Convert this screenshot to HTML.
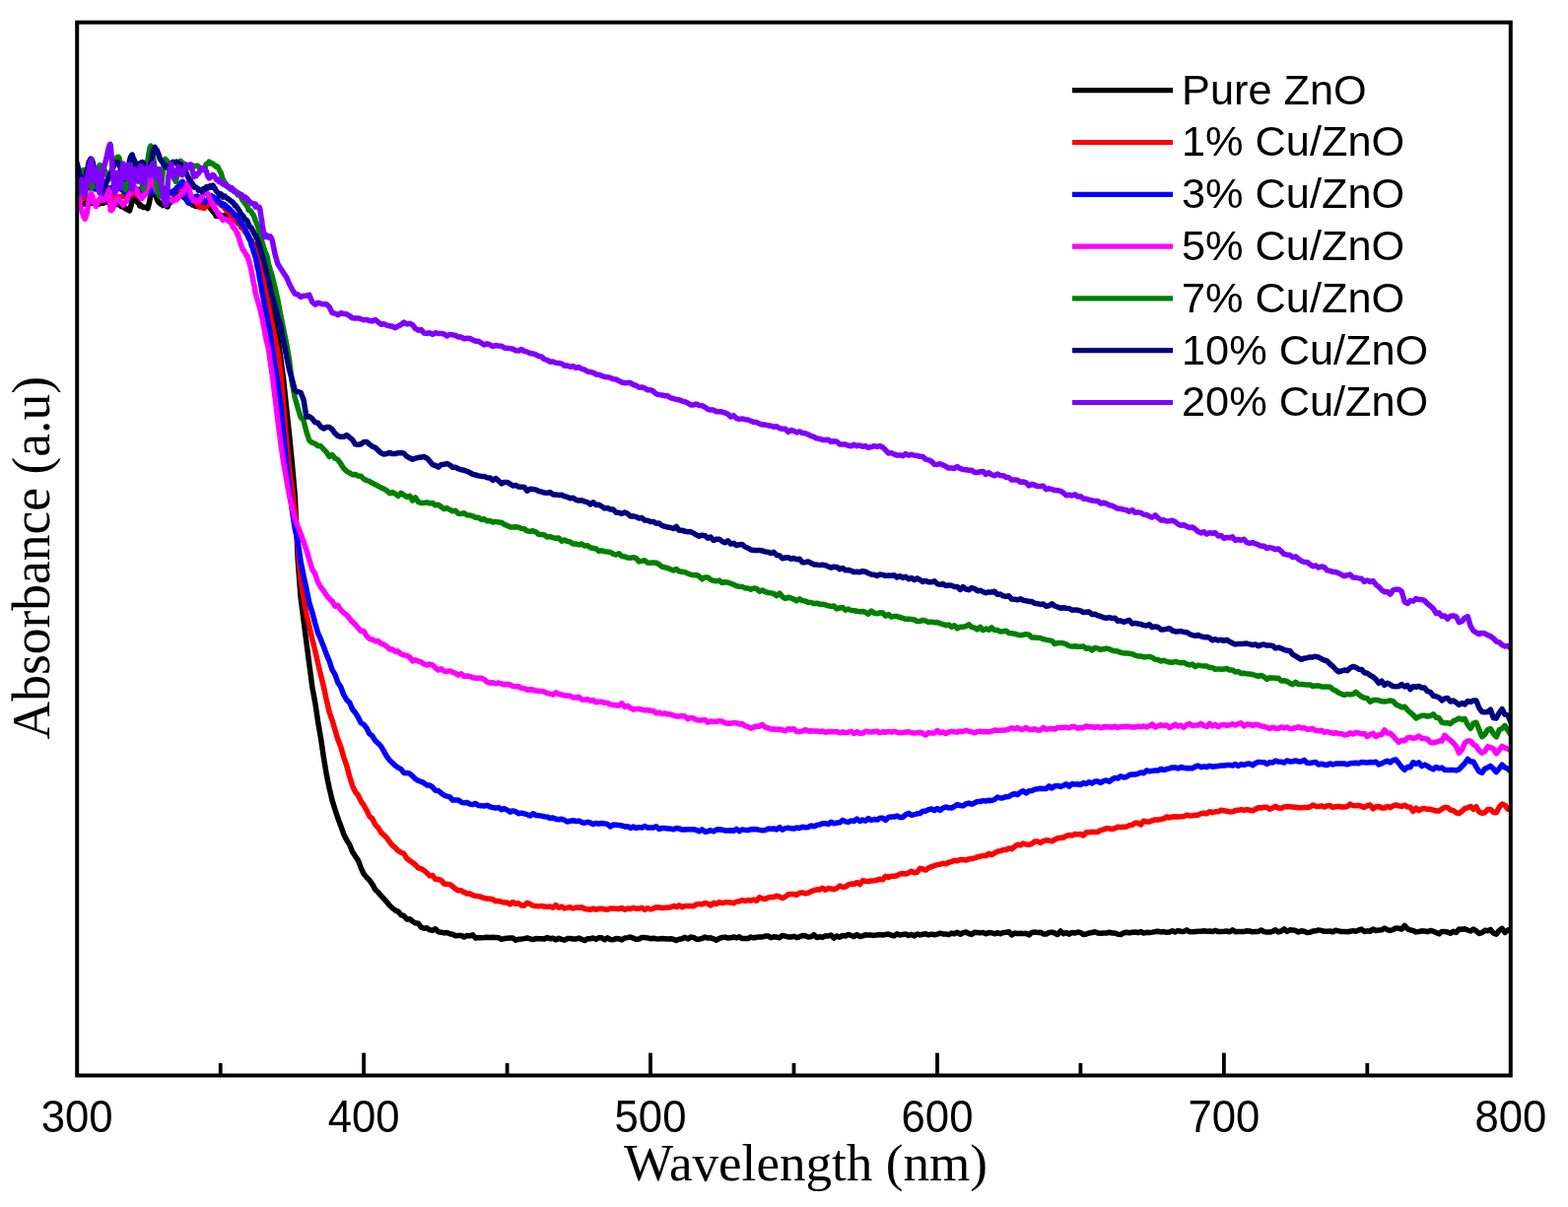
<!DOCTYPE html>
<html><head><meta charset="utf-8"><title>Absorbance vs Wavelength</title>
<style>
html,body{margin:0;padding:0;background:#fff;}
body{width:1591px;height:1225px;overflow:hidden;}
svg{display:block;}
.tl{font-family:"Liberation Sans",Arial,sans-serif;font-size:45.5px;fill:#000;}
.lg{font-family:"Liberation Sans",Arial,sans-serif;font-size:43.3px;fill:#000;}
.at{font-family:"Liberation Serif","Times New Roman",serif;fill:#000;}
</style></head>
<body>
<svg width="1591" height="1225" viewBox="0 0 1591 1225">
<rect width="1591" height="1225" fill="#fff"/>
<defs><clipPath id="pa"><rect x="78.2" y="22.7" width="1454.6" height="1068.8"/></clipPath></defs>
<g clip-path="url(#pa)">
<polyline points="78.2,208.0 79.2,207.9 80.2,207.2 81.2,206.6 82.2,206.6 83.2,206.1 84.2,206.6 85.2,207.2 86.2,205.9 87.2,205.8 88.2,206.3 89.2,206.2 90.0,206.1 90.2,205.4 91.2,206.0 92.2,206.5 93.2,205.4 94.2,206.1 95.2,205.4 96.2,205.9 97.2,205.7 98.2,206.8 99.2,206.2 100.0,207.2 100.2,207.1 101.2,206.8 102.2,205.2 103.2,206.2 104.2,206.2 105.2,206.0 106.2,204.7 107.2,205.1 108.2,204.6 109.2,204.6 110.0,205.6 110.2,204.5 111.2,205.0 112.2,205.7 113.2,204.9 114.2,205.4 115.2,205.8 116.2,206.0 117.2,205.5 118.2,206.5 119.2,207.6 120.0,206.1 120.2,207.6 121.2,207.5 122.2,207.6 123.2,209.8 124.2,209.7 125.2,209.3 126.2,210.7 127.2,211.7 128.2,211.8 129.2,212.9 130.2,212.8 131.2,213.4 131.6,213.9 132.2,211.6 133.2,207.5 134.2,201.7 135.2,199.1 135.3,198.3 136.2,199.1 137.2,200.6 138.2,203.1 139.2,205.3 140.2,205.7 141.2,207.5 141.9,208.9 142.2,207.4 143.2,208.8 144.2,209.4 145.2,210.6 146.2,210.6 147.2,210.2 148.2,210.3 149.2,210.5 150.0,211.6 150.2,210.3 151.2,207.0 152.2,201.4 153.2,195.0 154.2,191.6 154.4,190.9 155.2,192.1 156.2,193.5 157.2,196.9 158.2,199.4 159.2,201.7 160.2,204.3 161.0,204.8 161.2,205.8 162.2,206.1 163.2,207.3 164.2,206.9 165.2,208.5 166.2,207.8 167.2,207.9 168.2,209.1 168.4,208.8 169.2,209.2 170.2,209.8 171.2,207.0 172.2,205.9 173.2,205.2 174.2,204.1 175.0,202.9 175.2,202.7 176.2,202.1 177.2,200.8 178.2,198.6 179.2,198.1 180.2,197.3 181.2,196.2 181.6,197.0 182.2,196.4 183.2,197.9 184.2,198.2 185.2,199.1 186.2,199.8 187.2,201.2 188.2,201.2 189.2,202.7 190.0,204.2 190.2,202.9 191.2,205.3 192.2,204.5 193.2,206.7 194.2,206.4 195.2,208.0 196.2,208.1 197.2,207.4 198.2,209.2 198.5,209.4 199.2,208.3 200.2,207.7 201.2,207.1 202.2,205.8 203.2,206.3 204.2,204.8 205.0,205.0 205.2,204.5 206.2,204.9 207.2,205.0 208.2,207.3 209.2,207.3 210.2,208.9 211.2,209.3 212.0,209.6 212.2,210.0 213.2,210.9 214.2,212.5 215.2,213.6 216.2,215.0 217.2,215.6 218.2,217.1 219.2,219.3 220.2,218.4 221.2,218.4 222.2,219.4 223.2,220.1 224.2,218.5 225.2,219.3 226.2,219.2 227.2,218.6 228.2,220.2 229.2,219.9 230.0,220.0 230.2,219.6 231.2,220.5 232.2,220.2 233.2,220.8 234.2,220.6 235.2,220.9 236.0,222.8 236.2,221.8 237.2,222.8 238.2,223.3 239.2,223.9 240.2,224.7 241.2,226.4 242.2,226.8 243.2,228.0 244.2,229.1 245.0,230.7 245.2,230.6 246.2,231.6 247.2,232.2 248.2,232.9 249.2,235.7 250.2,237.0 251.2,237.8 252.2,239.7 253.2,241.5 254.2,243.1 255.0,244.6 255.2,244.1 256.2,247.1 257.2,247.4 258.2,250.7 259.2,252.7 260.2,255.3 261.2,258.4 262.2,260.7 263.0,261.3 263.2,261.5 264.2,266.0 265.2,268.2 266.2,272.3 267.2,276.5 268.2,278.8 269.2,282.5 270.0,287.2 270.2,287.9 271.2,291.9 272.2,296.7 273.2,300.7 274.2,304.9 276.0,315.0 278.9,328.1 281.8,342.7 284.8,363.4 287.7,385.5 290.6,413.6 293.5,440.8 296.4,470.6 299.3,503.1 302.2,567.9 305.1,606.5 308.0,629.0 310.9,651.7 313.8,674.0 316.8,696.9 319.7,712.7 322.6,732.2 325.5,749.0 328.4,768.6 331.3,786.1 334.2,800.1 337.1,812.4 340.0,821.6 342.9,830.6 345.8,838.2 348.8,846.7 351.7,852.4 354.6,856.9 357.5,864.2 360.4,868.8 363.3,873.1 366.2,880.6 369.1,887.0 372.0,890.3 374.9,893.4 377.8,897.4 380.8,902.9 383.7,905.6 386.6,909.0 389.5,912.1 392.4,915.3 395.3,918.9 398.2,921.6 401.1,923.9 404.0,925.1 406.9,928.6 409.8,929.5 412.8,932.9 415.7,932.7 418.6,935.2 421.5,936.8 424.4,937.2 427.3,941.1 430.2,942.2 433.1,941.7 436.0,943.8 438.9,944.4 441.8,942.7 444.8,945.8 447.7,946.2 450.6,946.9 453.5,946.5 456.4,947.7 459.3,948.2 462.2,949.7 465.1,949.4 468.0,949.4 470.9,951.0 473.9,949.5 476.8,949.9 479.7,948.9 482.6,952.0 485.5,951.6 488.4,951.7 491.3,951.6 494.2,951.3 497.1,951.5 500.0,951.3 502.9,951.4 505.9,951.8 508.8,953.3 511.7,952.6 514.6,952.3 517.5,952.0 520.4,952.1 523.3,954.2 526.2,953.3 529.1,953.0 532.0,952.6 534.9,952.0 537.9,952.8 540.8,953.6 543.7,952.6 546.6,952.7 549.5,952.7 552.4,953.0 555.3,951.5 558.2,952.7 561.1,952.2 564.0,953.7 566.9,952.2 569.9,953.4 572.8,954.2 575.7,952.6 578.6,952.4 581.5,953.1 584.4,952.9 587.3,952.1 590.2,953.3 593.1,954.6 596.0,952.7 598.9,952.7 601.9,952.0 604.8,953.2 607.7,951.8 610.6,951.8 613.5,953.8 616.4,951.9 619.3,953.5 622.2,953.8 625.1,952.6 628.0,952.8 630.9,953.9 633.9,952.0 636.8,951.6 639.7,951.0 642.6,952.1 645.5,953.4 648.4,953.0 651.3,951.4 654.2,951.6 657.1,951.9 660.0,952.7 662.9,952.3 665.9,952.8 668.8,952.9 671.7,952.5 674.6,952.7 677.5,953.0 680.4,952.7 683.3,953.2 686.2,954.4 689.1,953.3 692.0,952.8 695.0,951.3 697.9,953.0 700.8,951.0 703.7,951.4 706.6,953.3 709.5,953.2 712.4,952.4 715.3,951.0 718.2,952.1 721.1,951.8 724.0,952.8 727.0,954.2 729.9,952.4 732.8,951.5 735.7,951.1 738.6,952.0 741.5,951.8 744.4,950.9 747.3,951.9 750.2,950.8 753.1,952.6 756.0,952.5 759.0,952.5 761.9,951.1 764.8,951.8 767.7,951.2 770.6,951.0 773.5,950.9 776.4,950.1 779.3,949.9 782.2,951.7 785.1,950.8 788.0,951.1 791.0,951.7 793.9,949.4 796.8,950.1 799.7,950.9 802.6,951.0 805.5,950.3 808.4,951.5 811.3,950.8 814.2,949.5 817.1,949.7 820.0,951.1 823.0,950.8 825.9,948.7 828.8,951.5 831.7,950.8 834.6,951.4 837.5,949.8 840.4,949.9 843.3,949.1 846.2,952.2 849.1,949.9 852.0,951.3 855.0,949.4 857.9,950.0 860.8,948.4 863.7,949.5 866.6,950.6 869.5,948.6 872.4,950.6 875.3,949.9 878.2,948.7 881.1,949.1 884.0,949.1 887.0,949.4 889.9,948.9 892.8,948.6 895.7,949.0 898.6,948.4 901.5,948.1 904.4,949.1 907.3,949.8 910.2,947.7 913.1,949.0 916.0,948.4 919.0,948.0 921.9,949.5 924.8,948.3 927.7,950.0 930.6,947.9 933.5,948.9 936.4,948.3 939.3,947.8 942.2,948.8 945.1,948.1 948.1,948.7 951.0,948.1 953.9,947.2 956.8,947.9 959.7,948.0 962.6,948.7 965.5,947.1 968.4,947.7 971.3,946.3 974.2,948.2 977.1,946.7 980.1,946.0 983.0,947.5 985.9,948.4 988.8,946.2 991.7,946.5 994.6,946.8 997.5,946.4 1000.4,947.7 1003.3,946.6 1006.2,946.7 1009.1,947.8 1012.1,946.7 1015.0,947.7 1017.9,946.5 1020.8,946.3 1023.7,945.7 1026.6,948.9 1029.5,947.0 1032.4,947.5 1035.3,947.3 1038.2,947.4 1041.1,947.3 1044.1,948.9 1047.0,946.4 1049.9,946.0 1052.8,946.4 1055.7,946.2 1058.6,947.9 1061.5,948.0 1064.4,946.5 1067.3,946.1 1070.2,947.0 1073.1,948.5 1076.1,944.9 1079.0,947.7 1081.9,946.4 1084.8,948.2 1087.7,946.4 1090.6,947.1 1093.5,946.0 1096.4,946.5 1099.3,948.5 1102.2,948.0 1105.1,946.9 1108.1,946.5 1111.0,945.7 1113.9,946.9 1116.8,947.2 1119.7,947.1 1122.6,947.1 1125.5,946.2 1128.4,947.0 1131.3,947.0 1134.2,948.1 1137.1,948.5 1140.1,946.8 1143.0,946.2 1145.9,946.7 1148.8,946.2 1151.7,946.0 1154.6,946.5 1157.5,945.6 1160.4,947.0 1163.3,946.3 1166.2,946.5 1169.1,946.1 1172.1,945.6 1175.0,945.3 1177.9,945.9 1180.8,945.6 1183.7,946.2 1186.6,945.9 1189.5,944.7 1192.4,945.9 1195.3,944.6 1198.2,945.2 1201.2,945.4 1204.1,943.9 1207.0,945.7 1209.9,945.7 1212.8,945.4 1215.7,945.2 1218.6,945.2 1221.5,944.7 1224.4,945.3 1227.3,945.0 1230.2,945.5 1233.2,944.4 1236.1,945.6 1239.0,945.5 1241.9,945.3 1244.8,945.0 1247.7,945.8 1250.6,943.9 1253.5,945.7 1256.4,945.5 1259.3,945.5 1262.2,945.6 1265.2,944.7 1268.1,945.0 1271.0,945.8 1273.9,945.6 1276.8,945.4 1279.7,943.9 1282.6,945.6 1285.5,946.1 1288.4,946.0 1291.3,945.3 1294.2,943.8 1297.2,945.9 1300.1,945.0 1303.0,942.9 1305.9,945.4 1308.8,943.8 1311.7,943.9 1314.6,944.5 1317.5,946.1 1320.4,944.7 1323.3,945.2 1326.2,946.5 1329.2,946.3 1332.1,944.9 1335.0,944.8 1337.9,943.9 1340.8,944.4 1343.7,945.3 1346.6,945.3 1349.5,945.0 1352.4,945.8 1355.3,944.3 1358.2,944.9 1361.2,945.5 1364.1,945.4 1367.0,945.8 1369.9,945.2 1372.8,944.6 1375.7,945.2 1378.6,944.0 1381.5,943.1 1384.4,945.5 1387.3,944.8 1390.2,945.2 1393.2,943.0 1396.1,944.4 1399.0,944.1 1401.9,943.8 1404.8,942.0 1407.7,943.7 1410.6,944.5 1413.5,943.5 1416.4,941.9 1419.3,942.3 1422.3,943.0 1425.2,939.4 1428.1,942.7 1431.0,943.9 1433.9,944.5 1436.8,945.9 1439.7,945.5 1442.6,944.8 1445.5,945.0 1448.4,945.7 1451.3,944.4 1454.3,945.2 1457.2,946.5 1460.1,947.8 1463.0,945.4 1465.9,945.6 1468.8,945.9 1471.7,947.3 1474.6,945.3 1477.5,946.5 1480.4,942.9 1483.3,943.2 1486.3,942.8 1489.2,944.0 1492.1,945.0 1495.0,943.0 1497.9,944.9 1500.8,947.4 1503.7,946.6 1506.6,944.3 1509.5,944.8 1512.4,943.4 1515.3,947.0 1518.3,948.2 1521.2,944.3 1524.1,942.3 1527.0,946.4 1529.9,944.0 1532.8,943.4" fill="none" stroke="#000000" stroke-width="5.5" stroke-linejoin="round" stroke-linecap="round"/>
<polyline points="78.2,205.7 79.2,203.9 80.2,203.6 81.2,202.5 82.2,201.1 83.2,201.1 84.2,200.5 85.2,200.9 86.2,199.8 87.2,199.8 88.2,200.7 89.2,201.3 90.0,201.2 90.2,200.1 91.2,200.8 92.2,202.7 93.2,203.2 94.2,204.1 95.2,205.8 96.0,206.3 96.2,205.5 97.2,204.9 98.2,204.7 99.2,205.5 100.2,204.1 101.2,203.9 102.2,203.5 103.2,203.3 103.7,202.5 104.2,202.8 105.2,201.5 106.2,201.3 107.2,200.4 108.2,201.2 109.2,200.0 110.2,199.2 111.2,199.1 112.2,199.0 113.2,199.4 113.3,198.0 114.2,198.4 115.2,199.0 116.2,200.9 117.2,200.2 118.2,199.8 119.2,200.4 120.0,201.2 120.2,199.9 121.2,199.7 122.2,200.4 123.2,199.6 124.2,199.3 125.2,198.2 126.2,199.2 127.2,198.7 128.2,197.7 129.2,197.5 130.0,195.8 130.2,197.4 131.2,196.8 132.2,197.2 133.2,197.3 134.2,196.6 135.2,195.8 136.2,197.0 136.8,196.4 137.2,196.6 138.2,196.7 139.2,197.3 140.2,196.6 141.2,199.3 142.2,199.3 143.2,200.3 144.2,201.1 145.0,200.0 145.2,198.9 146.2,198.6 147.2,196.8 148.2,195.0 149.2,193.0 150.2,189.6 151.2,189.5 152.2,187.8 153.2,189.2 154.2,189.6 155.2,190.4 156.2,191.5 157.2,192.0 157.3,192.0 158.2,191.9 159.2,193.6 160.2,195.3 161.2,196.0 162.2,196.1 163.2,196.1 164.2,195.5 165.0,196.9 165.2,196.0 166.2,195.9 167.2,195.8 168.2,195.9 169.2,195.5 170.2,195.7 171.2,194.9 172.2,195.2 173.2,196.7 174.2,195.1 175.0,194.9 175.2,195.3 176.2,194.9 177.2,193.1 178.2,192.8 179.2,192.6 180.2,191.5 181.2,191.0 181.6,191.8 182.2,190.6 183.2,191.4 184.2,191.7 185.2,193.8 186.2,192.8 187.2,194.7 188.2,195.9 189.2,197.7 190.0,198.4 190.2,199.0 191.2,198.1 192.2,200.4 193.2,200.6 194.2,201.3 195.2,202.9 196.2,202.9 197.2,203.1 198.0,204.8 198.2,204.3 199.2,205.8 200.2,207.5 201.2,208.5 202.2,210.3 203.2,210.2 204.2,210.1 205.2,211.0 205.8,210.9 206.2,210.7 207.2,211.4 208.2,210.0 209.2,208.3 210.2,208.9 211.2,207.3 212.2,206.7 213.2,205.7 214.2,205.5 215.0,205.0 215.2,205.7 216.2,205.3 217.2,205.3 218.2,205.5 219.2,204.5 220.2,205.5 221.2,205.8 222.2,206.4 223.2,205.9 224.2,208.2 225.2,207.8 225.3,207.1 226.0,208.0 226.2,209.1 227.2,210.6 228.2,211.4 229.2,213.0 230.2,213.7 231.2,215.4 232.2,215.6 233.2,217.1 234.2,218.7 235.0,220.5 235.2,218.6 236.2,220.0 237.2,220.9 238.2,222.9 239.2,222.8 240.2,224.3 241.2,225.7 242.2,226.2 243.2,227.4 244.2,228.9 245.2,229.2 246.2,231.0 247.2,232.9 248.2,234.6 249.2,235.9 250.2,236.4 251.2,238.7 252.2,241.1 253.2,242.7 254.2,244.1 255.2,245.5 255.7,247.4 256.2,247.7 257.2,249.6 258.2,252.2 259.2,256.2 260.2,258.3 261.2,261.8 261.5,261.7 262.2,264.8 263.2,267.2 264.2,271.1 265.2,276.6 266.1,279.3 266.2,278.9 267.2,283.7 268.2,288.8 269.2,294.4 270.2,298.5 271.2,302.5 271.4,304.8 272.2,309.0 273.2,314.1 274.2,320.1 276.0,328.5 278.9,343.1 281.8,356.6 284.8,377.8 287.7,411.5 290.6,445.7 293.5,475.5 296.4,496.1 299.3,521.1 302.2,552.9 305.1,587.4 308.0,607.2 310.9,622.9 313.8,635.1 316.8,648.4 319.7,660.2 322.6,673.0 325.5,685.2 328.4,696.9 331.3,710.7 334.2,722.9 337.1,731.1 340.0,741.0 342.9,750.6 345.8,758.1 348.8,768.6 351.7,776.7 354.6,787.7 357.5,797.1 360.4,803.5 363.3,807.1 366.2,812.9 369.1,817.3 372.0,822.4 374.9,828.6 377.8,830.8 380.8,837.0 383.7,839.9 386.6,844.9 389.5,847.4 392.4,850.2 395.3,854.4 398.2,858.0 401.1,860.3 404.0,863.4 406.9,865.2 409.8,866.3 412.8,871.3 415.7,873.5 418.6,875.5 421.5,877.7 424.4,880.8 427.3,881.7 430.2,883.5 433.1,885.9 436.0,888.9 438.9,888.5 441.8,892.3 444.8,892.4 447.7,893.5 450.6,896.9 453.5,897.2 456.4,897.6 459.3,899.7 462.2,902.2 465.1,903.8 468.0,903.7 470.9,905.6 473.9,907.0 476.8,906.8 479.7,908.6 482.6,909.2 485.5,909.6 488.4,910.4 491.3,911.5 494.2,912.1 497.1,912.2 500.0,912.8 502.9,914.6 505.9,914.4 508.8,915.4 511.7,916.1 514.6,916.0 517.5,917.8 520.4,915.5 523.3,917.3 526.2,916.7 529.1,918.9 532.0,919.1 534.9,916.3 537.9,917.5 540.8,919.1 543.7,919.5 546.6,919.8 549.5,919.4 552.4,920.0 555.3,920.4 558.2,920.0 561.1,921.2 564.0,918.6 566.9,921.2 569.9,920.0 572.8,921.9 575.7,921.1 578.6,920.7 581.5,922.0 584.4,921.0 587.3,921.2 590.2,920.7 593.1,922.2 596.0,922.7 598.9,923.2 601.9,922.2 604.8,923.2 607.7,922.3 610.6,922.2 613.5,922.8 616.4,923.2 619.3,922.0 622.2,922.1 625.1,922.2 628.0,922.4 630.9,921.5 633.9,923.2 636.8,921.9 639.7,922.5 642.6,921.3 645.5,922.2 648.4,922.1 651.3,921.3 654.2,923.3 657.1,921.7 660.0,922.8 662.9,922.1 665.9,920.7 668.8,920.9 671.7,921.5 674.6,921.2 677.5,921.1 680.4,920.7 683.3,919.4 686.2,920.6 689.1,918.7 692.0,920.7 695.0,919.6 697.9,919.4 700.8,919.5 703.7,919.7 706.6,917.9 709.5,917.4 712.4,917.7 715.3,916.5 718.2,917.1 721.1,919.0 724.0,916.4 727.0,917.5 729.9,915.5 732.8,916.6 735.7,915.8 738.6,915.7 741.5,916.0 744.4,916.7 747.3,915.1 750.2,914.7 753.1,913.5 756.0,914.5 759.0,913.5 761.9,914.1 764.8,913.0 767.7,914.2 770.6,910.7 773.5,911.8 776.4,912.5 779.3,911.1 782.2,910.4 785.1,910.5 788.0,909.2 791.0,910.1 793.9,911.6 796.8,910.1 799.7,907.8 802.6,907.6 805.5,907.5 808.4,908.3 811.3,906.3 814.2,905.9 817.1,906.8 820.0,906.3 823.0,904.7 825.9,903.6 828.8,902.8 831.7,903.0 834.6,901.2 837.5,903.2 840.4,901.5 843.3,902.0 846.2,902.6 849.1,901.5 852.0,899.0 855.0,900.3 857.9,900.0 860.8,897.8 863.7,897.1 866.6,897.3 869.5,895.5 872.4,897.6 875.3,893.8 878.2,894.3 881.1,894.5 884.0,893.9 887.0,893.7 889.9,893.2 892.8,892.2 895.7,892.7 898.6,889.3 901.5,890.5 904.4,889.3 907.3,889.3 910.2,888.7 913.1,887.0 916.0,886.5 919.0,887.0 921.9,885.9 924.8,884.2 927.7,885.8 930.6,885.2 933.5,881.3 936.4,882.0 939.3,883.1 942.2,880.9 945.1,879.7 948.1,878.6 951.0,877.6 953.9,877.2 956.8,876.3 959.7,876.7 962.6,875.2 965.5,874.6 968.4,873.3 971.3,873.8 974.2,872.5 977.1,872.6 980.1,873.0 983.0,871.9 985.9,871.5 988.8,870.8 991.7,869.9 994.6,869.1 997.5,868.4 1000.4,868.6 1003.3,866.3 1006.2,867.6 1009.1,865.7 1012.1,864.2 1015.0,863.6 1017.9,862.6 1020.8,862.5 1023.7,860.9 1026.6,861.7 1029.5,859.3 1032.4,857.2 1035.3,857.8 1038.2,856.0 1041.1,857.0 1044.1,857.3 1047.0,856.3 1049.9,854.0 1052.8,853.9 1055.7,855.4 1058.6,853.6 1061.5,852.8 1064.4,853.1 1067.3,853.7 1070.2,852.2 1073.1,850.7 1076.1,850.3 1079.0,850.0 1081.9,848.4 1084.8,847.5 1087.7,847.9 1090.6,846.6 1093.5,846.8 1096.4,846.5 1099.3,847.9 1102.2,844.7 1105.1,844.8 1108.1,844.3 1111.0,844.4 1113.9,844.4 1116.8,842.6 1119.7,841.9 1122.6,840.7 1125.5,840.8 1128.4,841.6 1131.3,840.7 1134.2,839.3 1137.1,839.4 1140.1,839.2 1143.0,839.1 1145.9,837.6 1148.8,837.3 1151.7,835.3 1154.6,835.3 1157.5,837.0 1160.4,833.2 1163.3,834.1 1166.2,834.0 1169.1,832.9 1172.1,831.9 1175.0,832.0 1177.9,831.5 1180.8,830.9 1183.7,828.9 1186.6,829.9 1189.5,828.9 1192.4,828.7 1195.3,828.9 1198.2,828.8 1201.2,828.6 1204.1,827.1 1207.0,827.9 1209.9,827.7 1212.8,827.3 1215.7,827.2 1218.6,825.6 1221.5,825.2 1224.4,825.8 1227.3,823.7 1230.2,824.7 1233.2,823.8 1236.1,823.7 1239.0,822.3 1241.9,822.8 1244.8,823.3 1247.7,823.9 1250.6,823.7 1253.5,822.6 1256.4,822.3 1259.3,821.6 1262.2,822.4 1265.2,821.6 1268.1,822.2 1271.0,822.9 1273.9,821.2 1276.8,819.7 1279.7,820.0 1282.6,819.2 1285.5,819.2 1288.4,821.2 1291.3,820.0 1294.2,818.3 1297.2,820.0 1300.1,820.4 1303.0,818.9 1305.9,818.5 1308.8,818.7 1311.7,819.1 1314.6,819.3 1317.5,819.7 1320.4,819.7 1323.3,819.6 1326.2,819.6 1329.2,819.0 1332.1,817.1 1335.0,818.2 1337.9,818.5 1340.8,817.9 1343.7,819.0 1346.6,817.9 1349.5,817.4 1352.4,819.4 1355.3,818.8 1358.2,818.4 1361.2,819.0 1364.1,819.1 1367.0,818.5 1369.9,816.1 1372.8,817.6 1375.7,817.8 1378.6,817.4 1381.5,818.4 1384.4,819.5 1387.3,817.7 1390.2,817.0 1393.2,820.8 1396.1,818.7 1399.0,818.4 1401.9,820.0 1404.8,820.0 1407.7,818.4 1410.6,819.6 1413.5,817.8 1416.4,816.9 1419.3,817.9 1422.3,818.4 1425.2,817.2 1428.1,818.9 1431.0,819.3 1433.9,823.3 1436.8,820.1 1439.7,822.6 1442.6,820.9 1445.5,820.6 1448.4,821.2 1451.3,821.3 1454.3,822.1 1457.2,823.0 1460.1,823.1 1463.0,821.0 1465.9,819.4 1468.8,819.5 1471.7,822.0 1474.6,822.6 1477.5,824.8 1480.4,825.6 1483.3,823.4 1486.3,820.5 1489.2,819.8 1492.1,818.5 1495.0,821.4 1497.9,818.7 1500.8,824.0 1503.7,825.3 1506.6,824.8 1509.5,821.5 1512.4,821.5 1515.3,824.4 1518.3,824.8 1521.2,819.2 1524.1,816.1 1527.0,817.2 1529.9,821.2 1532.8,821.8" fill="none" stroke="#ff0000" stroke-width="5.5" stroke-linejoin="round" stroke-linecap="round"/>
<polyline points="78.2,192.2 79.2,191.1 80.2,191.4 81.2,191.6 82.2,190.8 83.2,191.1 84.2,189.5 85.2,191.0 86.2,189.8 87.2,190.5 88.2,190.1 89.2,188.5 90.0,189.5 90.2,190.1 91.2,191.0 92.2,190.3 93.2,190.4 94.2,189.6 95.2,191.5 96.2,191.9 97.2,191.1 98.2,191.3 99.2,190.8 100.0,192.5 100.2,193.7 101.2,193.3 102.2,194.9 103.2,195.9 104.2,196.2 105.2,198.5 106.0,197.3 106.2,197.9 107.2,197.7 108.2,197.0 109.2,195.4 110.2,193.9 111.2,191.9 112.2,190.6 113.0,191.0 113.2,190.5 114.2,189.9 115.2,189.7 116.2,190.0 117.2,189.1 118.2,189.3 119.2,189.0 120.0,190.1 120.2,190.3 121.2,191.5 122.2,190.0 123.2,191.4 124.2,193.2 125.2,193.5 126.2,194.2 127.2,195.9 128.0,194.8 128.2,194.3 129.2,194.0 130.2,194.5 131.2,193.9 132.2,192.2 133.2,191.9 134.2,192.4 135.0,192.3 135.2,191.6 136.2,192.4 137.2,192.5 138.2,191.3 139.2,192.4 140.2,193.1 141.2,192.8 142.2,192.1 143.2,193.5 144.2,194.5 145.2,195.2 146.2,193.2 147.2,196.3 148.2,194.2 149.2,195.5 150.0,195.7 150.2,195.6 151.2,195.0 152.2,194.1 153.2,195.0 154.2,194.0 155.2,192.7 156.2,195.6 157.2,194.0 158.2,194.4 159.2,192.5 160.2,193.6 161.2,193.4 162.2,193.2 163.2,192.1 164.2,191.3 165.0,191.9 165.2,190.7 166.2,191.1 167.2,192.4 168.2,192.1 169.2,193.0 170.2,193.5 171.2,195.2 172.2,195.2 173.2,194.7 174.2,195.7 175.0,194.5 175.2,194.8 176.2,195.2 177.2,193.1 178.2,192.5 179.2,190.5 180.2,189.9 181.2,189.4 182.2,186.6 183.2,186.1 184.2,184.7 185.2,184.3 186.2,185.8 187.2,191.4 188.2,197.0 189.2,200.9 190.2,203.9 191.1,206.0 191.2,205.4 192.2,205.8 193.2,205.0 194.2,204.2 195.2,203.5 196.2,201.8 197.2,201.1 198.2,199.6 199.2,199.9 200.0,199.1 200.2,199.9 201.2,199.6 202.2,200.7 203.2,201.5 204.2,201.1 205.2,202.2 206.2,202.7 207.2,204.2 208.2,205.1 208.7,204.6 209.2,203.8 210.2,204.4 211.2,201.8 212.2,202.6 213.2,200.4 214.2,198.5 215.0,201.6 215.2,201.0 216.2,199.6 217.2,200.8 218.2,201.2 219.2,202.2 220.2,202.1 221.2,203.3 221.7,204.4 222.2,204.6 223.2,205.8 224.2,205.9 225.2,208.0 226.2,206.9 227.2,208.2 228.2,207.7 229.2,208.9 230.2,211.3 231.2,210.7 232.0,212.3 232.2,212.1 233.2,212.4 234.2,213.7 235.2,214.5 236.2,215.5 237.2,217.2 238.2,218.1 239.2,218.4 240.2,219.3 241.2,221.2 242.2,222.2 243.2,224.2 243.9,226.1 244.2,225.4 245.2,226.4 246.2,228.1 247.2,229.5 248.2,231.4 249.2,233.5 250.2,236.0 251.2,238.3 252.2,241.3 253.1,242.8 253.2,243.1 254.2,245.0 255.2,249.2 256.2,251.3 257.2,255.0 258.2,257.7 259.0,260.9 259.2,260.6 260.2,265.4 261.2,271.5 262.2,274.4 263.2,281.1 263.5,283.0 264.2,286.0 265.2,291.7 266.2,297.8 267.2,302.3 268.2,308.5 268.8,311.0 269.2,313.2 270.2,318.0 271.2,323.1 272.2,328.2 273.2,333.6 274.0,336.4 274.2,340.5 276.0,351.9 278.9,370.9 281.8,388.7 284.8,411.1 287.7,440.9 290.6,470.7 293.5,495.4 296.4,518.2 299.3,537.0 302.2,549.9 305.1,569.5 308.0,584.2 310.9,597.7 313.8,611.8 316.8,621.1 319.7,632.3 322.6,642.4 325.5,649.0 328.4,656.3 331.3,664.2 334.2,671.0 337.1,679.9 340.0,684.6 342.9,692.8 345.8,697.3 348.8,705.2 351.7,710.2 354.6,712.9 357.5,719.7 360.4,723.1 363.3,727.8 366.2,733.7 369.1,735.3 372.0,739.0 374.9,744.7 377.8,747.0 380.8,751.7 383.7,754.4 386.6,757.4 389.5,762.4 392.4,767.7 395.3,771.5 398.2,774.2 401.1,777.1 404.0,779.1 406.9,780.6 409.8,784.4 412.8,784.4 415.7,785.2 418.6,787.6 421.5,790.5 424.4,792.3 427.3,793.4 430.2,794.6 433.1,796.9 436.0,797.0 438.9,798.9 441.8,802.2 444.8,802.6 447.7,804.9 450.6,807.2 453.5,808.1 456.4,808.9 459.3,812.0 462.2,811.9 465.1,812.1 468.0,814.1 470.9,814.8 473.9,814.5 476.8,816.1 479.7,816.5 482.6,815.4 485.5,817.4 488.4,817.7 491.3,818.0 494.2,817.3 497.1,818.8 500.0,819.5 502.9,820.1 505.9,819.6 508.8,821.7 511.7,820.6 514.6,822.1 517.5,824.1 520.4,822.9 523.3,823.7 526.2,825.7 529.1,825.1 532.0,825.7 534.9,826.8 537.9,828.0 540.8,825.7 543.7,827.4 546.6,827.7 549.5,828.1 552.4,828.7 555.3,829.1 558.2,830.5 561.1,829.9 564.0,831.2 566.9,831.8 569.9,831.2 572.8,832.3 575.7,834.0 578.6,833.2 581.5,832.7 584.4,833.5 587.3,833.1 590.2,834.5 593.1,835.3 596.0,834.2 598.9,835.0 601.9,836.5 604.8,835.4 607.7,836.2 610.6,835.5 613.5,835.9 616.4,836.5 619.3,839.0 622.2,837.1 625.1,837.2 628.0,837.4 630.9,838.0 633.9,838.9 636.8,838.7 639.7,840.5 642.6,839.1 645.5,840.4 648.4,839.6 651.3,840.1 654.2,838.5 657.1,839.9 660.0,840.1 662.9,840.1 665.9,838.7 668.8,841.4 671.7,840.5 674.6,840.6 677.5,840.9 680.4,841.1 683.3,841.7 686.2,840.5 689.1,840.9 692.0,842.1 695.0,842.1 697.9,841.8 700.8,841.8 703.7,841.7 706.6,842.5 709.5,843.7 712.4,841.9 715.3,844.2 718.2,843.7 721.1,842.7 724.0,843.8 727.0,842.0 729.9,841.8 732.8,842.2 735.7,843.0 738.6,843.0 741.5,842.8 744.4,843.3 747.3,841.4 750.2,843.6 753.1,841.9 756.0,842.4 759.0,842.5 761.9,841.8 764.8,841.5 767.7,841.7 770.6,842.4 773.5,842.8 776.4,842.6 779.3,841.1 782.2,841.2 785.1,840.9 788.0,841.9 791.0,839.6 793.9,842.2 796.8,840.6 799.7,840.1 802.6,840.8 805.5,841.0 808.4,840.1 811.3,840.4 814.2,839.3 817.1,839.8 820.0,839.5 823.0,837.9 825.9,838.8 828.8,837.4 831.7,836.9 834.6,835.7 837.5,835.8 840.4,836.4 843.3,834.3 846.2,835.7 849.1,835.1 852.0,834.8 855.0,832.4 857.9,833.9 860.8,834.3 863.7,832.9 866.6,833.4 869.5,831.1 872.4,833.4 875.3,832.1 878.2,833.1 881.1,830.6 884.0,832.5 887.0,831.5 889.9,832.1 892.8,830.3 895.7,830.3 898.6,832.4 901.5,829.4 904.4,829.1 907.3,829.1 910.2,828.0 913.1,829.4 916.0,829.4 919.0,826.8 921.9,825.4 924.8,827.3 927.7,826.6 930.6,825.8 933.5,825.5 936.4,823.2 939.3,823.2 942.2,821.6 945.1,821.0 948.1,822.5 951.0,820.5 953.9,822.5 956.8,820.1 959.7,819.0 962.6,819.8 965.5,820.1 968.4,818.5 971.3,816.6 974.2,817.5 977.1,817.9 980.1,815.9 983.0,815.1 985.9,816.2 988.8,815.0 991.7,813.4 994.6,813.5 997.5,812.6 1000.4,813.0 1003.3,812.2 1006.2,812.5 1009.1,811.5 1012.1,809.0 1015.0,810.0 1017.9,809.7 1020.8,808.7 1023.7,808.5 1026.6,806.5 1029.5,805.6 1032.4,806.5 1035.3,804.2 1038.2,802.7 1041.1,804.9 1044.1,802.8 1047.0,802.6 1049.9,801.1 1052.8,800.7 1055.7,800.3 1058.6,800.4 1061.5,800.5 1064.4,797.8 1067.3,799.9 1070.2,797.7 1073.1,797.4 1076.1,798.4 1079.0,797.3 1081.9,795.7 1084.8,798.2 1087.7,795.5 1090.6,796.1 1093.5,795.7 1096.4,796.5 1099.3,794.6 1102.2,795.5 1105.1,793.7 1108.1,795.0 1111.0,793.0 1113.9,793.0 1116.8,794.5 1119.7,792.7 1122.6,792.0 1125.5,793.3 1128.4,791.0 1131.3,789.4 1134.2,790.0 1137.1,787.7 1140.1,789.0 1143.0,788.5 1145.9,786.5 1148.8,785.9 1151.7,786.0 1154.6,785.3 1157.5,783.9 1160.4,784.7 1163.3,781.9 1166.2,782.8 1169.1,782.4 1172.1,782.0 1175.0,782.1 1177.9,780.4 1180.8,781.6 1183.7,780.6 1186.6,779.9 1189.5,779.0 1192.4,778.9 1195.3,779.9 1198.2,778.5 1201.2,779.2 1204.1,779.8 1207.0,779.6 1209.9,779.8 1212.8,778.0 1215.7,777.1 1218.6,778.7 1221.5,777.9 1224.4,778.5 1227.3,777.3 1230.2,778.2 1233.2,777.7 1236.1,777.4 1239.0,777.1 1241.9,776.9 1244.8,776.6 1247.7,776.4 1250.6,777.0 1253.5,775.5 1256.4,777.3 1259.3,775.6 1262.2,776.3 1265.2,775.3 1268.1,775.0 1271.0,776.7 1273.9,774.5 1276.8,773.4 1279.7,773.6 1282.6,773.7 1285.5,775.5 1288.4,773.6 1291.3,774.0 1294.2,772.1 1297.2,773.1 1300.1,773.2 1303.0,774.1 1305.9,771.9 1308.8,773.0 1311.7,772.8 1314.6,771.9 1317.5,772.9 1320.4,772.9 1323.3,771.4 1326.2,774.2 1329.2,774.5 1332.1,773.9 1335.0,773.4 1337.9,776.1 1340.8,775.2 1343.7,776.0 1346.6,776.5 1349.5,774.9 1352.4,776.0 1355.3,775.0 1358.2,775.1 1361.2,775.0 1364.1,775.0 1367.0,775.8 1369.9,774.8 1372.8,774.5 1375.7,774.3 1378.6,774.7 1381.5,773.4 1384.4,773.7 1387.3,774.1 1390.2,773.5 1393.2,773.8 1396.1,773.2 1399.0,775.9 1401.9,774.9 1404.8,773.4 1407.7,772.2 1410.6,774.0 1413.5,771.5 1416.4,771.0 1419.3,774.5 1422.3,778.6 1425.2,781.3 1428.1,778.4 1431.0,778.7 1433.9,773.8 1436.8,775.3 1439.7,773.9 1442.6,777.6 1445.5,776.1 1448.4,777.4 1451.3,779.5 1454.3,780.7 1457.2,778.5 1460.1,779.8 1463.0,779.1 1465.9,781.4 1468.8,781.5 1471.7,781.5 1474.6,781.4 1477.5,781.9 1480.4,780.9 1483.3,777.8 1486.3,774.8 1489.2,770.4 1492.1,772.9 1495.0,773.1 1497.9,778.4 1500.8,783.0 1503.7,784.3 1506.6,780.3 1509.5,779.0 1512.4,777.4 1515.3,780.1 1518.3,783.6 1521.2,780.1 1524.1,776.1 1527.0,779.0 1529.9,780.1 1532.8,783.1" fill="none" stroke="#0000ff" stroke-width="5.5" stroke-linejoin="round" stroke-linecap="round"/>
<polyline points="78.2,200.6 79.2,201.8 80.2,202.0 81.2,205.0 82.2,210.5 83.2,215.0 84.2,218.0 85.2,220.8 86.1,222.1 86.2,222.2 87.2,219.6 88.2,216.4 89.2,210.0 90.2,204.3 91.2,200.7 92.2,196.8 92.7,196.8 93.2,197.6 94.2,200.4 95.2,203.6 96.2,207.3 97.1,208.0 97.2,209.5 98.2,207.9 99.2,204.9 100.2,203.2 101.2,201.7 102.2,200.8 103.2,202.0 104.2,202.7 105.2,202.4 106.0,202.9 106.2,202.2 107.2,201.4 108.2,198.3 109.2,196.9 110.2,193.9 110.3,192.5 111.2,200.9 112.2,213.4 112.5,213.6 113.2,213.5 114.2,212.1 115.2,210.0 116.2,206.9 117.2,203.9 118.2,203.0 119.1,201.6 119.2,201.6 120.2,201.6 121.2,203.1 122.2,205.5 123.2,205.5 124.2,207.5 125.0,208.2 125.2,207.5 126.2,207.2 127.2,204.8 128.2,204.3 129.2,202.1 130.0,200.1 130.2,198.6 131.2,197.0 132.2,195.9 133.2,194.0 134.2,191.2 135.2,190.5 136.0,189.0 136.2,189.3 137.2,190.2 138.2,192.2 139.2,193.2 140.2,197.1 141.2,199.5 142.2,199.7 143.2,200.4 143.4,201.4 144.2,200.5 145.2,198.4 146.2,198.7 147.2,196.5 148.0,194.7 148.2,195.9 149.2,192.4 150.2,188.9 151.2,186.4 152.2,183.2 153.2,181.9 153.7,182.3 154.2,182.0 155.2,183.4 156.2,187.0 157.2,189.3 158.2,192.0 159.2,194.1 160.0,195.3 160.2,196.1 161.2,196.1 162.2,197.9 163.2,196.9 164.2,197.9 165.2,197.7 166.2,198.8 167.2,199.9 168.0,200.9 168.2,199.7 169.2,200.8 170.2,201.2 171.2,201.7 172.2,202.1 173.2,203.4 174.2,202.8 175.2,204.1 175.7,204.1 176.2,203.6 177.2,203.0 178.2,202.0 179.2,202.9 180.2,200.0 181.0,200.9 181.2,200.2 182.2,198.7 183.2,197.2 184.2,197.5 185.2,196.8 186.2,193.9 186.7,193.6 187.2,193.6 188.2,190.9 189.2,189.5 190.2,186.1 191.1,186.1 191.2,185.1 192.2,191.5 193.2,196.9 194.0,199.2 194.2,200.6 195.2,201.5 196.2,203.5 197.2,202.8 198.2,203.4 199.2,204.2 200.2,205.0 201.2,204.1 201.4,204.7 202.2,204.1 203.2,202.6 204.2,201.3 205.2,199.4 206.2,197.1 207.2,197.0 208.2,194.6 208.7,196.0 209.2,196.0 210.2,196.2 211.2,197.3 212.2,199.6 213.2,202.2 214.2,204.6 215.2,206.5 216.0,208.4 216.2,207.8 217.2,210.0 218.2,210.6 219.2,213.6 220.2,214.8 220.5,215.0 221.2,217.0 222.2,218.2 223.2,217.6 224.2,220.6 225.2,220.6 225.3,222.1 226.2,223.4 227.2,222.0 228.2,222.6 229.2,222.6 230.2,223.2 231.2,223.7 232.2,224.5 232.7,223.4 233.2,225.3 234.2,225.2 235.2,227.7 236.2,230.1 237.1,231.4 237.2,230.6 238.2,232.3 239.2,233.9 240.2,235.8 241.2,238.5 241.3,237.2 242.2,240.7 243.2,244.1 244.2,247.5 245.2,250.3 246.2,253.1 247.2,254.2 248.2,256.0 249.2,257.5 250.2,260.0 251.2,259.9 251.8,263.3 252.2,263.5 253.2,267.2 254.2,271.2 255.2,275.4 255.7,278.6 256.2,280.8 257.2,286.6 258.2,290.7 259.2,297.5 259.6,298.6 260.2,300.7 261.2,304.3 262.2,307.8 263.2,311.1 264.2,315.2 264.8,318.0 265.2,319.7 266.2,323.6 267.2,329.3 268.2,334.0 268.8,337.7 269.2,340.7 270.2,345.0 271.2,349.1 272.2,353.1 272.7,356.1 273.2,358.8 274.2,367.2 276.0,378.7 278.9,401.9 281.8,426.1 284.8,449.3 287.7,469.6 290.6,485.9 293.5,502.8 296.4,515.2 299.3,527.1 302.2,534.1 305.1,541.8 308.0,549.8 310.9,558.1 313.8,568.0 316.8,577.9 319.7,582.3 322.6,590.8 325.5,596.1 328.4,599.6 331.3,604.3 334.2,607.8 337.1,610.4 340.0,615.3 342.9,614.5 345.8,619.1 348.8,621.9 351.7,624.0 354.6,627.6 357.5,631.2 360.4,633.7 363.3,637.2 366.2,640.4 369.1,640.5 372.0,645.6 374.9,648.3 377.8,649.0 380.8,650.8 383.7,650.5 386.6,653.2 389.5,654.2 392.4,656.0 395.3,658.9 398.2,659.1 401.1,661.2 404.0,661.1 406.9,663.7 409.8,664.9 412.8,665.4 415.7,667.0 418.6,670.9 421.5,669.8 424.4,671.1 427.3,671.9 430.2,674.0 433.1,675.0 436.0,674.1 438.9,674.9 441.8,677.8 444.8,680.1 447.7,678.8 450.6,681.1 453.5,681.4 456.4,680.9 459.3,682.2 462.2,683.3 465.1,685.1 468.0,683.8 470.9,686.6 473.9,686.0 476.8,686.4 479.7,687.8 482.6,688.2 485.5,688.2 488.4,688.3 491.3,689.5 494.2,692.2 497.1,693.2 500.0,692.7 502.9,693.8 505.9,693.0 508.8,694.0 511.7,694.9 514.6,694.3 517.5,695.0 520.4,696.5 523.3,696.7 526.2,696.7 529.1,698.5 532.0,698.5 534.9,700.2 537.9,699.8 540.8,700.1 543.7,701.0 546.6,701.3 549.5,701.4 552.4,702.1 555.3,703.6 558.2,704.0 561.1,705.0 564.0,702.9 566.9,704.5 569.9,705.0 572.8,705.9 575.7,705.9 578.6,706.3 581.5,707.9 584.4,708.0 587.3,707.3 590.2,710.0 593.1,710.3 596.0,709.6 598.9,711.3 601.9,710.6 604.8,712.8 607.7,712.2 610.6,712.3 613.5,713.3 616.4,713.5 619.3,714.9 622.2,715.5 625.1,715.9 628.0,715.9 630.9,713.8 633.9,717.5 636.8,716.3 639.7,718.6 642.6,719.9 645.5,719.6 648.4,719.5 651.3,720.2 654.2,720.7 657.1,720.8 660.0,721.3 662.9,721.5 665.9,723.8 668.8,723.2 671.7,724.5 674.6,724.0 677.5,724.8 680.4,725.1 683.3,726.1 686.2,726.9 689.1,726.9 692.0,726.6 695.0,727.0 697.9,729.6 700.8,728.4 703.7,728.9 706.6,730.8 709.5,730.9 712.4,730.9 715.3,730.5 718.2,733.2 721.1,732.0 724.0,732.5 727.0,732.3 729.9,731.6 732.8,732.1 735.7,733.9 738.6,734.3 741.5,734.1 744.4,733.7 747.3,733.8 750.2,735.1 753.1,734.5 756.0,736.9 759.0,737.5 761.9,739.2 764.8,738.0 767.7,737.1 770.6,737.2 773.5,735.4 776.4,738.1 779.3,738.8 782.2,740.1 785.1,740.1 788.0,740.3 791.0,740.2 793.9,740.8 796.8,741.7 799.7,739.7 802.6,740.4 805.5,739.8 808.4,742.5 811.3,742.4 814.2,742.1 817.1,740.6 820.0,741.9 823.0,741.7 825.9,742.1 828.8,742.0 831.7,742.7 834.6,742.0 837.5,743.2 840.4,742.8 843.3,742.5 846.2,742.8 849.1,742.6 852.0,743.8 855.0,743.0 857.9,743.6 860.8,743.1 863.7,742.3 866.6,744.4 869.5,742.8 872.4,744.3 875.3,744.1 878.2,742.3 881.1,742.8 884.0,743.0 887.0,742.6 889.9,742.2 892.8,743.7 895.7,742.8 898.6,743.2 901.5,742.5 904.4,743.2 907.3,742.4 910.2,743.1 913.1,743.7 916.0,743.4 919.0,743.1 921.9,742.7 924.8,743.8 927.7,744.1 930.6,743.6 933.5,743.2 936.4,744.4 939.3,746.0 942.2,743.6 945.1,744.1 948.1,744.0 951.0,741.5 953.9,743.7 956.8,742.9 959.7,744.5 962.6,743.0 965.5,742.4 968.4,742.8 971.3,743.0 974.2,742.2 977.1,742.5 980.1,741.3 983.0,742.1 985.9,742.8 988.8,743.7 991.7,742.6 994.6,742.1 997.5,742.7 1000.4,742.5 1003.3,742.9 1006.2,742.3 1009.1,741.1 1012.1,741.3 1015.0,741.2 1017.9,741.1 1020.8,740.9 1023.7,740.0 1026.6,738.7 1029.5,739.8 1032.4,738.6 1035.3,740.2 1038.2,740.1 1041.1,738.5 1044.1,740.4 1047.0,740.5 1049.9,739.8 1052.8,741.0 1055.7,741.1 1058.6,738.4 1061.5,740.2 1064.4,739.7 1067.3,739.6 1070.2,739.9 1073.1,738.5 1076.1,738.5 1079.0,738.2 1081.9,738.2 1084.8,738.7 1087.7,737.5 1090.6,737.8 1093.5,739.1 1096.4,738.5 1099.3,738.8 1102.2,736.8 1105.1,737.6 1108.1,737.7 1111.0,738.2 1113.9,737.6 1116.8,738.8 1119.7,737.8 1122.6,737.8 1125.5,737.7 1128.4,738.2 1131.3,737.2 1134.2,738.4 1137.1,737.8 1140.1,737.5 1143.0,737.3 1145.9,737.6 1148.8,738.0 1151.7,737.9 1154.6,737.3 1157.5,737.7 1160.4,737.0 1163.3,738.0 1166.2,736.8 1169.1,735.1 1172.1,737.9 1175.0,736.9 1177.9,735.8 1180.8,736.6 1183.7,736.0 1186.6,738.5 1189.5,737.1 1192.4,735.3 1195.3,737.1 1198.2,736.2 1201.2,738.2 1204.1,735.6 1207.0,734.6 1209.9,736.5 1212.8,736.1 1215.7,736.0 1218.6,734.4 1221.5,736.5 1224.4,737.5 1227.3,734.4 1230.2,736.9 1233.2,735.3 1236.1,737.7 1239.0,736.0 1241.9,735.4 1244.8,736.4 1247.7,735.8 1250.6,734.8 1253.5,735.9 1256.4,734.8 1259.3,733.7 1262.2,737.0 1265.2,735.1 1268.1,735.2 1271.0,736.4 1273.9,735.2 1276.8,735.8 1279.7,737.0 1282.6,737.4 1285.5,738.3 1288.4,739.5 1291.3,738.3 1294.2,739.2 1297.2,739.3 1300.1,737.9 1303.0,739.0 1305.9,738.0 1308.8,739.7 1311.7,739.2 1314.6,738.8 1317.5,737.7 1320.4,739.1 1323.3,738.6 1326.2,740.2 1329.2,739.9 1332.1,739.6 1335.0,741.5 1337.9,741.7 1340.8,741.2 1343.7,743.3 1346.6,742.6 1349.5,743.3 1352.4,744.2 1355.3,743.8 1358.2,744.4 1361.2,744.7 1364.1,745.9 1367.0,745.6 1369.9,743.8 1372.8,745.0 1375.7,743.5 1378.6,743.9 1381.5,744.8 1384.4,744.6 1387.3,747.4 1390.2,745.5 1393.2,744.4 1396.1,747.5 1399.0,745.8 1401.9,745.6 1404.8,741.0 1407.7,744.1 1410.6,744.3 1413.5,747.0 1416.4,750.4 1419.3,753.3 1422.3,751.4 1425.2,751.7 1428.1,748.9 1431.0,748.4 1433.9,749.3 1436.8,748.6 1439.7,747.1 1442.6,749.5 1445.5,749.6 1448.4,750.1 1451.3,753.3 1454.3,753.9 1457.2,753.2 1460.1,752.0 1463.0,752.1 1465.9,746.3 1468.8,749.1 1471.7,751.4 1474.6,754.0 1477.5,757.4 1480.4,764.2 1483.3,760.9 1486.3,754.1 1489.2,751.9 1492.1,751.9 1495.0,755.5 1497.9,757.4 1500.8,761.7 1503.7,764.1 1506.6,762.6 1509.5,757.8 1512.4,758.7 1515.3,760.1 1518.3,764.8 1521.2,761.2 1524.1,757.4 1527.0,759.2 1529.9,759.9 1532.8,761.7" fill="none" stroke="#ff00ff" stroke-width="5.5" stroke-linejoin="round" stroke-linecap="round"/>
<polyline points="78.2,175.2 79.2,173.5 80.2,173.8 81.2,173.8 82.2,173.6 83.2,174.0 84.2,172.6 84.6,172.4 85.2,173.6 86.2,174.8 87.2,177.5 88.2,178.8 89.2,180.3 90.2,183.8 91.2,185.2 92.2,186.7 93.2,190.5 94.2,189.6 95.2,188.9 96.2,186.3 97.2,183.5 98.2,178.6 99.2,175.1 100.2,170.2 101.2,167.5 102.2,168.3 103.2,168.8 104.2,169.4 105.2,171.0 106.2,173.0 107.2,174.5 108.2,177.5 109.2,178.1 110.0,178.3 110.2,178.2 111.2,177.8 112.2,175.9 113.2,173.7 114.2,169.8 115.2,167.9 116.2,166.0 117.2,161.8 118.2,160.0 119.2,159.4 119.9,159.2 120.2,159.2 121.2,160.9 122.2,167.9 123.2,174.0 124.2,181.4 125.2,188.0 126.2,190.5 126.5,191.4 127.2,192.5 128.2,189.8 129.2,187.8 130.2,184.4 131.2,181.9 132.2,179.1 133.0,177.7 133.2,176.9 134.2,174.8 135.2,172.4 136.2,169.4 137.2,166.9 138.2,165.5 139.0,166.2 139.2,166.0 140.2,168.7 141.2,173.0 142.2,177.6 143.2,183.8 144.2,187.1 145.2,192.0 145.6,191.6 146.2,190.0 147.2,185.0 148.2,178.8 149.2,168.9 150.2,161.0 151.2,154.6 152.2,149.4 152.9,148.0 153.2,149.0 154.2,150.6 155.2,156.9 156.2,163.8 157.2,171.9 158.2,181.1 159.2,187.8 160.2,195.5 161.2,197.4 161.7,199.4 162.2,196.8 163.2,192.8 164.2,183.6 165.2,174.4 166.2,167.4 167.2,163.1 167.6,161.4 168.2,163.1 169.2,162.8 170.2,164.9 171.2,166.8 172.0,168.4 172.2,167.3 173.2,172.0 174.2,174.7 175.2,177.8 176.2,180.6 177.2,182.4 178.0,183.2 178.2,184.2 179.2,180.8 180.2,175.0 181.2,169.4 182.2,166.0 183.0,163.5 183.2,163.4 184.2,164.9 185.2,165.1 186.2,165.9 187.2,166.7 188.2,167.3 189.2,168.5 190.2,169.5 191.0,169.9 191.2,170.2 192.2,170.3 193.2,170.0 194.2,169.8 195.2,168.9 196.2,168.0 197.2,168.8 198.2,168.4 199.2,168.5 199.9,168.7 200.2,168.2 201.2,168.7 202.2,170.2 203.2,171.2 204.2,171.4 205.0,172.3 205.2,171.8 206.2,170.8 207.2,170.1 208.2,169.6 209.2,166.4 210.2,166.2 211.2,165.4 211.7,165.4 212.2,164.0 213.2,166.0 214.2,165.3 215.2,165.6 216.2,166.3 217.2,167.5 218.2,167.8 218.5,167.9 219.2,169.2 220.2,168.8 221.2,169.5 222.0,171.5 222.2,171.7 223.2,174.0 224.2,175.3 225.0,178.6 225.2,178.8 226.2,182.5 227.2,183.6 228.0,186.1 228.2,186.1 229.2,186.6 230.2,188.1 231.2,190.0 232.0,189.7 232.2,189.7 233.2,191.4 234.2,192.1 235.2,192.8 236.2,192.4 236.4,193.0 237.2,194.2 238.2,193.9 239.2,194.6 240.2,196.4 241.2,197.7 242.0,196.8 242.2,196.1 243.2,198.0 244.2,199.5 245.2,201.4 246.2,203.3 247.2,204.4 248.2,205.6 248.9,207.1 249.2,206.9 250.2,208.8 251.2,209.8 252.2,213.2 253.2,213.4 254.2,213.9 255.2,215.3 256.2,217.3 257.2,218.3 258.2,220.9 258.3,221.1 259.2,224.1 260.2,226.1 261.2,228.9 262.2,231.9 263.2,235.4 264.2,239.6 265.2,243.0 266.1,246.8 266.2,246.0 267.2,250.3 268.2,253.0 269.2,256.0 270.2,257.6 271.2,261.5 272.2,266.6 273.2,270.6 274.0,272.5 274.2,273.7 276.0,279.5 278.9,291.3 281.8,304.1 284.8,320.1 287.7,334.2 290.6,348.4 293.5,365.0 296.4,388.8 299.3,404.1 302.2,414.1 305.1,423.5 308.0,426.7 310.9,438.2 313.8,447.0 316.8,449.2 319.7,450.3 322.6,452.5 325.5,452.7 328.4,456.0 331.3,458.9 334.2,463.4 337.1,461.7 340.0,465.1 342.9,466.7 345.8,470.7 348.8,475.4 351.7,478.3 354.6,479.9 357.5,481.8 360.4,481.5 363.3,483.0 366.2,483.2 369.1,486.2 372.0,487.5 374.9,488.5 377.8,490.3 380.8,491.7 383.7,493.3 386.6,495.0 389.5,496.1 392.4,497.8 395.3,500.6 398.2,499.5 401.1,501.1 404.0,503.5 406.9,500.3 409.8,502.5 412.8,504.3 415.7,503.3 418.6,508.0 421.5,504.9 424.4,509.4 427.3,510.4 430.2,510.4 433.1,509.9 436.0,510.9 438.9,510.5 441.8,512.8 444.8,512.3 447.7,514.4 450.6,516.5 453.5,515.7 456.4,517.3 459.3,518.7 462.2,518.3 465.1,521.3 468.0,521.4 470.9,520.7 473.9,522.7 476.8,522.9 479.7,523.8 482.6,525.2 485.5,525.2 488.4,527.4 491.3,526.7 494.2,528.8 497.1,528.6 500.0,530.0 502.9,529.4 505.9,530.1 508.8,530.2 511.7,532.3 514.6,533.3 517.5,534.9 520.4,534.9 523.3,534.7 526.2,535.1 529.1,536.4 532.0,536.8 534.9,538.9 537.9,539.4 540.8,538.8 543.7,539.8 546.6,542.4 549.5,542.5 552.4,542.9 555.3,545.0 558.2,544.6 561.1,545.6 564.0,546.3 566.9,545.9 569.9,549.1 572.8,548.1 575.7,549.4 578.6,550.0 581.5,552.0 584.4,552.0 587.3,552.8 590.2,552.0 593.1,554.1 596.0,553.6 598.9,555.8 601.9,556.5 604.8,556.9 607.7,559.4 610.6,558.8 613.5,559.6 616.4,560.0 619.3,560.4 622.2,562.2 625.1,563.1 628.0,561.8 630.9,564.6 633.9,564.9 636.8,566.0 639.7,566.4 642.6,565.7 645.5,566.6 648.4,569.9 651.3,569.4 654.2,568.8 657.1,571.1 660.0,571.3 662.9,570.9 665.9,571.3 668.8,572.8 671.7,575.2 674.6,575.8 677.5,576.5 680.4,577.8 683.3,578.9 686.2,577.5 689.1,579.8 692.0,580.2 695.0,580.7 697.9,582.0 700.8,583.1 703.7,583.8 706.6,583.5 709.5,585.0 712.4,587.8 715.3,585.9 718.2,586.0 721.1,588.3 724.0,589.3 727.0,589.8 729.9,589.1 732.8,591.6 735.7,590.7 738.6,591.1 741.5,592.2 744.4,593.3 747.3,594.7 750.2,595.3 753.1,595.4 756.0,596.9 759.0,596.9 761.9,598.2 764.8,597.0 767.7,597.5 770.6,600.2 773.5,599.0 776.4,600.6 779.3,601.5 782.2,601.8 785.1,602.5 788.0,604.7 791.0,602.1 793.9,605.6 796.8,607.5 799.7,606.2 802.6,606.9 805.5,608.2 808.4,609.8 811.3,607.9 814.2,609.6 817.1,610.0 820.0,611.3 823.0,611.5 825.9,612.6 828.8,612.2 831.7,613.2 834.6,613.2 837.5,613.8 840.4,614.8 843.3,615.4 846.2,615.1 849.1,617.9 852.0,617.0 855.0,616.5 857.9,619.2 860.8,618.1 863.7,619.6 866.6,619.7 869.5,620.3 872.4,620.7 875.3,620.4 878.2,621.3 881.1,623.3 884.0,620.0 887.0,622.2 889.9,622.8 892.8,621.8 895.7,621.9 898.6,625.2 901.5,623.5 904.4,626.1 907.3,625.4 910.2,625.6 913.1,626.5 916.0,627.3 919.0,628.3 921.9,628.2 924.8,628.5 927.7,629.0 930.6,630.5 933.5,630.5 936.4,629.4 939.3,630.2 942.2,631.5 945.1,631.1 948.1,631.7 951.0,631.6 953.9,632.6 956.8,633.6 959.7,634.5 962.6,634.1 965.5,636.2 968.4,634.7 971.3,637.8 974.2,636.3 977.1,636.2 980.1,635.6 983.0,633.9 985.9,636.5 988.8,637.1 991.7,638.9 994.6,636.4 997.5,639.6 1000.4,638.1 1003.3,639.3 1006.2,636.9 1009.1,639.6 1012.1,639.6 1015.0,640.9 1017.9,640.8 1020.8,640.3 1023.7,642.5 1026.6,642.8 1029.5,643.2 1032.4,644.1 1035.3,644.7 1038.2,644.2 1041.1,643.6 1044.1,644.2 1047.0,647.1 1049.9,647.1 1052.8,647.3 1055.7,647.5 1058.6,648.7 1061.5,649.4 1064.4,649.9 1067.3,650.4 1070.2,653.5 1073.1,652.6 1076.1,652.6 1079.0,652.7 1081.9,653.8 1084.8,655.6 1087.7,656.1 1090.6,655.7 1093.5,656.3 1096.4,656.3 1099.3,656.0 1102.2,658.3 1105.1,657.8 1108.1,659.9 1111.0,657.4 1113.9,658.2 1116.8,659.4 1119.7,658.7 1122.6,658.1 1125.5,658.8 1128.4,660.1 1131.3,660.8 1134.2,660.9 1137.1,662.3 1140.1,662.9 1143.0,662.9 1145.9,663.3 1148.8,663.7 1151.7,665.0 1154.6,666.0 1157.5,665.9 1160.4,666.8 1163.3,666.8 1166.2,666.4 1169.1,667.3 1172.1,669.3 1175.0,669.6 1177.9,671.0 1180.8,670.2 1183.7,671.3 1186.6,672.1 1189.5,672.3 1192.4,671.4 1195.3,672.2 1198.2,672.9 1201.2,672.4 1204.1,674.0 1207.0,674.9 1209.9,674.1 1212.8,676.6 1215.7,675.1 1218.6,675.6 1221.5,676.0 1224.4,676.1 1227.3,677.4 1230.2,677.5 1233.2,679.4 1236.1,678.9 1239.0,679.3 1241.9,679.1 1244.8,678.5 1247.7,680.1 1250.6,679.9 1253.5,681.9 1256.4,681.6 1259.3,683.6 1262.2,683.3 1265.2,683.9 1268.1,684.0 1271.0,684.5 1273.9,685.5 1276.8,686.3 1279.7,685.4 1282.6,687.0 1285.5,689.4 1288.4,687.7 1291.3,688.1 1294.2,688.3 1297.2,688.2 1300.1,691.1 1303.0,690.7 1305.9,691.5 1308.8,693.4 1311.7,694.6 1314.6,692.3 1317.5,694.4 1320.4,694.5 1323.3,694.7 1326.2,695.1 1329.2,694.9 1332.1,696.5 1335.0,695.9 1337.9,695.9 1340.8,696.9 1343.7,696.9 1346.6,696.9 1349.5,697.2 1352.4,699.7 1355.3,700.9 1358.2,703.0 1361.2,704.3 1364.1,705.3 1367.0,704.4 1369.9,704.9 1372.8,704.5 1375.7,702.4 1378.6,704.8 1381.5,707.0 1384.4,708.3 1387.3,708.7 1390.2,712.3 1393.2,710.6 1396.1,710.4 1399.0,710.8 1401.9,711.8 1404.8,712.1 1407.7,711.6 1410.6,711.0 1413.5,711.7 1416.4,714.9 1419.3,716.2 1422.3,718.0 1425.2,717.2 1428.1,720.4 1431.0,723.2 1433.9,725.7 1436.8,728.9 1439.7,727.5 1442.6,726.3 1445.5,726.2 1448.4,727.2 1451.3,726.5 1454.3,724.9 1457.2,728.3 1460.1,728.6 1463.0,733.2 1465.9,733.9 1468.8,733.5 1471.7,734.6 1474.6,731.9 1477.5,730.7 1480.4,729.0 1483.3,730.2 1486.3,729.5 1489.2,735.6 1492.1,739.3 1495.0,734.1 1497.9,733.2 1500.8,740.5 1503.7,747.8 1506.6,745.5 1509.5,740.7 1512.4,739.7 1515.3,744.7 1518.3,747.9 1521.2,740.8 1524.1,739.4 1527.0,736.4 1529.9,741.3 1532.8,745.5" fill="none" stroke="#008000" stroke-width="5.5" stroke-linejoin="round" stroke-linecap="round"/>
<polyline points="78.2,165.8 79.2,170.2 80.2,175.1 81.2,177.5 82.2,179.6 83.2,181.5 84.2,182.9 85.2,183.0 85.3,184.3 86.2,183.3 87.2,179.3 88.2,173.9 89.2,169.3 90.2,164.4 91.2,162.6 92.0,161.0 92.2,161.1 93.2,162.3 94.2,164.8 95.2,170.0 96.2,174.2 97.0,178.2 97.2,178.8 98.2,182.3 99.2,186.9 100.2,192.1 101.2,193.6 102.2,194.7 103.2,194.7 104.2,193.2 105.2,191.6 106.2,190.0 107.2,188.4 108.2,183.9 109.2,182.9 109.6,182.1 110.2,180.9 111.2,178.6 112.2,176.2 113.2,174.5 114.2,171.2 115.2,169.2 116.2,167.3 117.2,165.8 118.2,164.7 119.1,165.1 119.2,164.5 120.2,165.7 121.2,167.9 122.2,170.6 123.2,174.2 124.2,177.4 125.2,180.8 126.2,181.6 126.5,181.5 127.2,181.6 128.2,179.0 129.2,173.3 130.2,170.4 131.2,164.4 132.2,160.1 133.2,158.2 133.8,157.1 134.2,157.0 135.2,160.7 136.2,162.2 137.2,166.4 138.2,169.7 139.0,169.4 139.2,169.9 140.2,169.5 141.2,169.3 142.2,165.7 143.2,164.9 144.1,164.9 144.2,164.6 145.2,164.7 146.2,167.8 147.2,170.2 148.2,172.9 149.2,175.2 150.0,175.6 150.2,175.2 151.2,173.4 152.2,168.9 153.2,164.6 154.2,159.7 155.2,154.6 156.2,151.4 157.2,149.3 157.3,150.7 158.2,151.7 159.2,152.0 160.2,155.0 161.2,157.4 162.2,161.0 163.2,162.5 164.2,163.8 165.2,165.2 166.2,166.9 167.2,167.5 168.2,169.6 169.2,169.4 170.0,170.3 170.2,170.1 171.2,170.0 172.2,168.2 173.2,167.4 174.2,164.9 175.2,165.0 175.7,164.4 176.2,164.6 177.2,164.7 178.2,165.5 179.2,164.2 180.2,166.1 181.2,165.6 182.2,167.9 183.2,166.7 184.2,168.1 184.5,167.9 185.2,170.6 186.2,170.2 187.2,172.8 188.2,174.4 189.2,175.7 190.2,178.5 191.0,180.4 191.2,180.2 192.2,182.5 193.2,183.3 194.2,185.1 195.2,186.3 196.2,188.0 197.2,190.1 197.7,189.6 198.2,189.9 199.2,190.3 200.2,191.1 201.2,193.1 202.2,192.2 203.2,192.9 204.2,193.7 205.0,193.5 205.2,195.0 206.2,191.9 207.2,192.6 208.2,191.7 209.2,189.7 210.0,189.6 210.2,190.2 211.2,190.8 212.2,189.1 213.2,188.6 214.2,190.0 215.2,190.3 216.0,189.2 216.2,188.1 217.2,190.9 218.2,191.2 219.2,193.6 220.2,194.5 221.2,195.8 222.0,196.5 222.2,197.8 223.2,198.4 224.2,196.8 225.2,198.0 226.2,200.1 227.2,199.2 228.2,199.1 229.0,200.4 229.2,200.5 230.2,201.1 231.2,201.5 232.2,202.3 233.2,203.0 234.2,204.2 235.2,204.4 236.2,205.5 237.2,206.5 238.2,208.4 238.6,208.2 239.2,208.6 240.2,210.1 241.2,211.4 242.2,213.2 243.2,214.3 244.2,216.6 245.2,217.9 246.2,218.6 247.2,219.9 247.8,221.5 248.2,221.9 249.2,223.0 250.2,223.5 251.2,224.8 252.2,227.5 253.2,229.2 254.2,230.8 255.2,231.1 256.2,234.2 257.0,234.7 257.2,235.6 258.2,237.5 259.2,238.9 260.2,241.2 261.2,242.7 262.0,245.4 262.2,245.5 263.2,249.7 264.2,252.7 265.2,256.6 266.1,259.4 266.2,259.2 267.2,263.4 268.2,266.9 269.2,271.5 270.2,275.5 271.2,278.5 272.2,283.4 272.7,285.4 273.2,287.1 274.2,292.2 276.0,300.2 278.9,310.1 281.8,321.4 284.8,331.2 287.7,346.4 290.6,361.2 293.5,375.3 296.4,385.2 299.3,396.3 302.2,397.7 305.1,398.4 308.0,405.5 310.9,423.0 313.8,422.7 316.8,424.8 319.7,428.6 322.6,429.2 325.5,433.1 328.4,435.0 331.3,433.5 334.2,433.6 337.1,435.8 340.0,439.8 342.9,442.3 345.8,443.3 348.8,443.3 351.7,441.5 354.6,443.8 357.5,446.1 360.4,450.9 363.3,451.3 366.2,450.8 369.1,448.6 372.0,448.4 374.9,450.9 377.8,453.1 380.8,454.3 383.7,457.1 386.6,459.7 389.5,461.0 392.4,460.5 395.3,459.4 398.2,460.6 401.1,460.5 404.0,459.7 406.9,459.4 409.8,460.2 412.8,463.3 415.7,464.7 418.6,466.2 421.5,465.2 424.4,464.4 427.3,464.1 430.2,463.5 433.1,464.9 436.0,468.0 438.9,471.6 441.8,472.5 444.8,474.1 447.7,471.5 450.6,471.2 453.5,470.6 456.4,471.9 459.3,474.3 462.2,474.3 465.1,475.7 468.0,476.8 470.9,477.3 473.9,478.3 476.8,479.8 479.7,481.3 482.6,482.0 485.5,482.9 488.4,483.4 491.3,483.5 494.2,484.7 497.1,484.9 500.0,487.4 502.9,485.5 505.9,487.9 508.8,490.9 511.7,489.4 514.6,489.4 517.5,491.2 520.4,493.0 523.3,492.5 526.2,493.9 529.1,494.2 532.0,494.5 534.9,498.2 537.9,496.2 540.8,496.4 543.7,497.1 546.6,498.5 549.5,499.1 552.4,500.1 555.3,500.2 558.2,499.6 561.1,501.9 564.0,501.9 566.9,502.6 569.9,502.3 572.8,503.8 575.7,504.4 578.6,505.7 581.5,505.3 584.4,507.3 587.3,508.1 590.2,507.8 593.1,509.0 596.0,509.6 598.9,511.9 601.9,509.8 604.8,512.5 607.7,512.2 610.6,514.0 613.5,515.9 616.4,515.5 619.3,517.0 622.2,517.0 625.1,520.2 628.0,520.3 630.9,521.3 633.9,520.1 636.8,521.2 639.7,524.0 642.6,523.8 645.5,524.6 648.4,526.0 651.3,525.5 654.2,528.1 657.1,528.3 660.0,529.6 662.9,529.4 665.9,531.3 668.8,531.1 671.7,533.4 674.6,534.4 677.5,535.0 680.4,535.5 683.3,536.5 686.2,534.5 689.1,538.3 692.0,538.2 695.0,539.3 697.9,539.7 700.8,539.6 703.7,541.1 706.6,542.8 709.5,544.2 712.4,543.2 715.3,543.6 718.2,546.3 721.1,545.1 724.0,548.3 727.0,547.2 729.9,547.2 732.8,549.4 735.7,550.8 738.6,548.8 741.5,552.1 744.4,551.3 747.3,553.5 750.2,552.7 753.1,552.5 756.0,555.0 759.0,556.2 761.9,558.0 764.8,558.5 767.7,558.4 770.6,558.4 773.5,559.0 776.4,559.9 779.3,560.2 782.2,561.5 785.1,560.3 788.0,563.3 791.0,563.9 793.9,566.8 796.8,566.0 799.7,565.7 802.6,567.3 805.5,566.5 808.4,567.7 811.3,567.3 814.2,570.8 817.1,570.7 820.0,569.9 823.0,571.5 825.9,572.9 828.8,573.1 831.7,573.6 834.6,573.1 837.5,573.8 840.4,575.0 843.3,576.2 846.2,575.2 849.1,575.4 852.0,577.8 855.0,576.5 857.9,578.7 860.8,578.4 863.7,579.4 866.6,580.6 869.5,580.2 872.4,580.7 875.3,579.7 878.2,580.3 881.1,581.8 884.0,583.0 887.0,583.2 889.9,584.4 892.8,583.1 895.7,583.4 898.6,584.4 901.5,584.0 904.4,584.3 907.3,583.8 910.2,586.0 913.1,584.6 916.0,586.4 919.0,585.2 921.9,587.8 924.8,586.5 927.7,588.6 930.6,587.0 933.5,588.5 936.4,590.5 939.3,589.4 942.2,590.7 945.1,590.8 948.1,589.8 951.0,592.6 953.9,593.3 956.8,592.5 959.7,594.5 962.6,593.9 965.5,594.2 968.4,595.5 971.3,595.4 974.2,598.4 977.1,595.6 980.1,598.0 983.0,598.7 985.9,596.6 988.8,597.3 991.7,599.7 994.6,599.3 997.5,600.6 1000.4,601.7 1003.3,601.0 1006.2,601.0 1009.1,600.2 1012.1,603.3 1015.0,603.0 1017.9,604.8 1020.8,605.4 1023.7,604.8 1026.6,608.1 1029.5,608.3 1032.4,608.8 1035.3,607.8 1038.2,609.2 1041.1,609.7 1044.1,610.5 1047.0,610.5 1049.9,612.3 1052.8,612.7 1055.7,613.4 1058.6,613.1 1061.5,615.2 1064.4,614.7 1067.3,612.7 1070.2,615.0 1073.1,616.0 1076.1,617.3 1079.0,616.8 1081.9,617.3 1084.8,617.5 1087.7,619.2 1090.6,618.9 1093.5,619.3 1096.4,619.9 1099.3,621.6 1102.2,621.3 1105.1,621.0 1108.1,623.6 1111.0,623.2 1113.9,624.8 1116.8,625.4 1119.7,626.8 1122.6,627.3 1125.5,626.6 1128.4,627.6 1131.3,627.2 1134.2,630.3 1137.1,629.9 1140.1,631.3 1143.0,630.4 1145.9,629.5 1148.8,633.1 1151.7,632.4 1154.6,633.0 1157.5,633.5 1160.4,634.6 1163.3,635.1 1166.2,633.8 1169.1,636.7 1172.1,635.9 1175.0,636.5 1177.9,639.0 1180.8,638.9 1183.7,638.4 1186.6,637.7 1189.5,640.0 1192.4,640.9 1195.3,640.9 1198.2,640.5 1201.2,641.5 1204.1,641.7 1207.0,643.5 1209.9,644.6 1212.8,645.3 1215.7,644.4 1218.6,645.8 1221.5,646.7 1224.4,646.4 1227.3,647.3 1230.2,649.8 1233.2,648.7 1236.1,649.9 1239.0,649.3 1241.9,650.3 1244.8,649.3 1247.7,651.2 1250.6,652.7 1253.5,653.9 1256.4,653.5 1259.3,653.5 1262.2,653.3 1265.2,653.1 1268.1,653.8 1271.0,654.7 1273.9,653.9 1276.8,655.7 1279.7,654.4 1282.6,654.1 1285.5,655.1 1288.4,654.9 1291.3,655.4 1294.2,657.9 1297.2,657.2 1300.1,658.1 1303.0,659.4 1305.9,660.3 1308.8,660.5 1311.7,664.2 1314.6,665.8 1317.5,667.6 1320.4,669.4 1323.3,668.1 1326.2,667.7 1329.2,666.9 1332.1,666.9 1335.0,666.3 1337.9,667.0 1340.8,668.7 1343.7,670.0 1346.6,670.8 1349.5,674.0 1352.4,676.2 1355.3,679.5 1358.2,681.7 1361.2,681.0 1364.1,680.0 1367.0,680.7 1369.9,677.9 1372.8,676.4 1375.7,677.3 1378.6,679.2 1381.5,679.4 1384.4,682.8 1387.3,683.3 1390.2,685.3 1393.2,687.0 1396.1,689.6 1399.0,693.4 1401.9,691.2 1404.8,695.3 1407.7,693.2 1410.6,694.8 1413.5,696.6 1416.4,696.8 1419.3,696.6 1422.3,694.6 1425.2,697.0 1428.1,695.5 1431.0,699.6 1433.9,696.7 1436.8,697.4 1439.7,696.4 1442.6,698.0 1445.5,698.0 1448.4,701.7 1451.3,702.4 1454.3,706.2 1457.2,706.8 1460.1,708.0 1463.0,710.9 1465.9,708.9 1468.8,708.5 1471.7,712.0 1474.6,711.1 1477.5,712.9 1480.4,715.3 1483.3,713.6 1486.3,715.0 1489.2,711.6 1492.1,712.4 1495.0,711.1 1497.9,710.9 1500.8,718.4 1503.7,722.5 1506.6,722.8 1509.5,722.5 1512.4,720.2 1515.3,728.5 1518.3,728.9 1521.2,723.7 1524.1,719.6 1527.0,725.2 1529.9,725.9 1532.8,732.6" fill="none" stroke="#000080" stroke-width="5.5" stroke-linejoin="round" stroke-linecap="round"/>
<polyline points="78.2,185.6 79.2,195.1 80.0,195.7 80.2,196.8 81.2,193.0 82.2,184.4 83.0,182.0 83.2,182.6 84.2,187.1 85.2,195.2 86.0,198.6 86.2,197.9 87.2,192.6 88.2,183.5 89.0,178.2 89.2,177.0 90.2,172.5 91.2,167.3 92.2,164.0 92.5,162.5 93.2,168.4 94.2,180.4 95.0,184.4 95.2,183.6 96.2,179.7 97.2,174.8 98.0,171.4 98.2,172.0 99.2,180.6 100.2,192.5 101.0,196.0 101.2,195.8 102.2,190.8 103.2,184.4 104.0,178.6 104.2,176.9 105.2,171.2 106.2,167.1 107.2,163.6 108.0,159.6 108.2,159.7 109.2,154.6 110.2,150.0 111.2,147.0 111.8,146.3 112.2,147.0 113.2,159.4 114.0,171.4 114.2,171.3 115.2,183.5 116.2,194.1 116.9,195.9 117.2,194.3 118.2,181.0 119.0,175.3 119.2,175.8 120.2,181.1 121.2,187.4 122.0,190.6 122.2,189.1 123.2,181.7 124.2,169.8 125.0,166.1 125.2,166.6 126.2,171.6 127.2,177.0 128.0,180.8 128.2,179.6 129.2,175.2 130.2,170.0 131.0,167.1 131.2,168.3 132.2,176.6 133.2,187.7 134.0,192.3 134.2,191.6 135.2,185.0 136.2,174.6 137.0,172.0 137.2,171.6 138.2,176.0 139.2,181.8 140.0,184.1 140.2,182.8 141.2,177.4 142.2,170.6 143.0,168.3 143.2,168.4 144.2,174.9 145.2,183.6 146.0,186.3 146.2,185.8 147.2,179.7 148.2,172.2 149.0,169.7 149.2,170.3 150.2,172.9 151.2,176.6 152.0,177.9 152.2,178.2 153.2,173.9 154.2,168.3 155.0,166.2 155.2,165.9 156.2,170.3 157.2,177.8 158.0,180.3 158.2,179.8 159.2,176.9 160.2,174.8 161.0,171.5 161.2,172.0 162.2,177.1 163.2,184.0 164.0,190.1 164.2,192.1 165.2,196.9 166.2,202.0 167.2,206.1 168.2,207.8 168.4,208.4 169.2,202.0 170.2,186.8 171.0,178.1 171.2,177.3 172.2,171.2 173.2,168.0 173.5,166.2 174.2,169.4 175.2,174.8 176.2,179.1 177.0,179.8 177.2,179.4 178.2,178.0 179.2,173.7 180.2,171.5 181.0,169.7 181.2,170.6 182.2,172.5 183.2,173.4 184.2,177.3 185.0,177.6 185.2,177.1 186.2,175.5 187.2,172.3 188.2,169.8 189.0,167.1 189.2,168.6 190.2,168.9 191.2,167.9 192.2,167.8 193.2,167.4 193.3,166.7 194.2,169.3 195.2,173.1 196.2,177.2 197.0,179.5 197.2,178.4 198.2,178.1 199.2,178.4 200.2,176.1 201.2,175.6 201.4,176.0 202.2,174.7 203.2,173.2 204.2,170.5 205.0,171.0 205.2,170.9 206.2,170.9 207.2,171.2 208.2,173.0 208.7,173.8 209.2,173.5 210.2,177.0 211.2,179.6 212.0,180.1 212.2,180.9 213.2,180.3 214.2,178.4 215.2,178.3 216.0,177.5 216.2,178.4 217.2,178.2 218.2,180.4 219.2,181.4 220.0,182.6 220.2,182.1 221.2,182.0 222.2,184.5 223.2,183.9 224.2,185.4 225.0,185.3 225.2,185.5 226.2,186.9 227.2,186.6 228.2,187.9 229.2,186.8 230.2,188.9 231.2,188.9 232.2,189.6 232.7,190.0 233.2,190.5 234.2,192.0 235.2,190.6 236.2,192.4 237.2,192.6 238.2,194.5 239.2,194.2 240.0,195.3 240.2,194.9 241.2,196.2 242.2,197.1 243.2,196.9 244.2,197.8 245.2,197.6 246.2,199.3 247.2,200.4 247.4,199.7 248.2,201.3 249.2,200.2 250.2,201.1 251.2,202.3 252.2,203.6 253.0,204.5 253.2,204.6 254.2,205.3 255.2,206.5 256.2,206.4 257.2,206.6 258.2,207.2 259.1,209.8 259.2,207.1 260.2,208.9 261.2,210.3 262.2,210.2 263.2,210.2 263.5,211.0 264.2,214.6 265.2,222.1 265.3,221.5 266.2,228.1 267.2,234.3 268.2,239.4 268.8,240.4 269.2,239.4 270.2,238.4 271.2,239.9 272.2,241.1 273.2,240.2 274.2,239.8 276.0,243.0 278.9,257.3 281.8,267.7 284.8,272.4 287.7,276.9 290.6,281.2 293.5,288.0 296.4,293.6 299.3,298.3 302.2,298.9 305.1,301.4 308.0,300.3 310.9,300.3 313.8,299.2 316.8,306.4 319.7,309.1 322.6,307.2 325.5,308.2 328.4,308.7 331.3,308.8 334.2,311.5 337.1,317.6 340.0,318.1 342.9,319.7 345.8,317.7 348.8,318.6 351.7,318.8 354.6,320.5 357.5,322.7 360.4,322.9 363.3,322.9 366.2,323.7 369.1,324.8 372.0,324.4 374.9,325.6 377.8,325.9 380.8,324.6 383.7,326.8 386.6,329.2 389.5,328.8 392.4,330.1 395.3,330.7 398.2,331.3 401.1,332.7 404.0,331.0 406.9,329.6 409.8,327.1 412.8,329.0 415.7,328.3 418.6,329.7 421.5,333.5 424.4,335.2 427.3,334.6 430.2,338.1 433.1,338.4 436.0,337.8 438.9,339.5 441.8,337.8 444.8,338.4 447.7,338.5 450.6,339.0 453.5,341.0 456.4,339.4 459.3,339.9 462.2,340.5 465.1,342.0 468.0,342.1 470.9,343.8 473.9,343.2 476.8,343.5 479.7,345.0 482.6,346.3 485.5,346.3 488.4,348.1 491.3,350.1 494.2,348.8 497.1,349.9 500.0,351.6 502.9,350.5 505.9,350.9 508.8,351.2 511.7,353.0 514.6,353.6 517.5,353.6 520.4,354.2 523.3,355.7 526.2,355.9 529.1,354.5 532.0,356.3 534.9,357.1 537.9,358.6 540.8,358.9 543.7,359.9 546.6,361.5 549.5,361.9 552.4,364.7 555.3,365.4 558.2,367.3 561.1,366.9 564.0,368.2 566.9,368.5 569.9,369.1 572.8,371.2 575.7,370.9 578.6,372.3 581.5,371.6 584.4,373.4 587.3,372.6 590.2,374.4 593.1,375.2 596.0,377.0 598.9,377.5 601.9,378.1 604.8,379.9 607.7,380.2 610.6,381.4 613.5,382.5 616.4,382.7 619.3,383.4 622.2,384.8 625.1,385.0 628.0,386.6 630.9,388.0 633.9,388.7 636.8,388.5 639.7,388.6 642.6,390.5 645.5,391.3 648.4,393.2 651.3,392.9 654.2,394.0 657.1,395.8 660.0,395.8 662.9,397.1 665.9,399.8 668.8,400.6 671.7,401.0 674.6,401.7 677.5,401.7 680.4,403.9 683.3,404.5 686.2,405.5 689.1,405.8 692.0,407.1 695.0,407.8 697.9,409.1 700.8,410.9 703.7,410.9 706.6,410.0 709.5,411.4 712.4,411.8 715.3,413.3 718.2,415.3 721.1,416.1 724.0,416.1 727.0,417.7 729.9,417.8 732.8,418.1 735.7,419.0 738.6,420.3 741.5,423.1 744.4,421.6 747.3,424.6 750.2,425.4 753.1,424.9 756.0,425.7 759.0,426.0 761.9,427.2 764.8,428.5 767.7,428.6 770.6,430.2 773.5,431.1 776.4,431.1 779.3,431.8 782.2,432.2 785.1,433.3 788.0,432.8 791.0,434.8 793.9,435.3 796.8,435.2 799.7,438.5 802.6,436.5 805.5,437.3 808.4,439.0 811.3,437.9 814.2,439.6 817.1,439.7 820.0,441.0 823.0,442.4 825.9,443.5 828.8,444.9 831.7,445.4 834.6,446.4 837.5,446.6 840.4,446.3 843.3,448.4 846.2,447.7 849.1,448.3 852.0,450.9 855.0,451.0 857.9,451.1 860.8,452.2 863.7,452.8 866.6,451.3 869.5,452.7 872.4,452.0 875.3,453.2 878.2,452.6 881.1,454.4 884.0,453.7 887.0,452.7 889.9,453.4 892.8,452.6 895.7,453.9 898.6,456.7 901.5,460.0 904.4,459.6 907.3,461.1 910.2,462.0 913.1,461.9 916.0,462.7 919.0,460.6 921.9,462.2 924.8,461.3 927.7,462.1 930.6,462.5 933.5,463.3 936.4,463.6 939.3,466.1 942.2,466.8 945.1,468.3 948.1,471.2 951.0,471.4 953.9,470.8 956.8,472.0 959.7,473.3 962.6,475.1 965.5,475.1 968.4,475.4 971.3,473.6 974.2,475.5 977.1,476.4 980.1,476.8 983.0,477.3 985.9,477.2 988.8,479.4 991.7,479.6 994.6,478.7 997.5,478.4 1000.4,481.5 1003.3,479.7 1006.2,481.7 1009.1,482.8 1012.1,481.0 1015.0,482.6 1017.9,482.7 1020.8,484.2 1023.7,484.8 1026.6,487.1 1029.5,486.9 1032.4,487.3 1035.3,489.2 1038.2,489.0 1041.1,489.9 1044.1,493.0 1047.0,491.3 1049.9,492.4 1052.8,493.6 1055.7,493.4 1058.6,493.3 1061.5,496.7 1064.4,495.8 1067.3,496.7 1070.2,497.6 1073.1,497.8 1076.1,498.4 1079.0,500.2 1081.9,502.8 1084.8,502.2 1087.7,503.0 1090.6,501.8 1093.5,503.9 1096.4,503.7 1099.3,506.2 1102.2,506.2 1105.1,507.3 1108.1,508.0 1111.0,508.4 1113.9,508.4 1116.8,511.0 1119.7,510.2 1122.6,511.1 1125.5,512.7 1128.4,513.1 1131.3,514.8 1134.2,516.2 1137.1,516.3 1140.1,517.1 1143.0,517.7 1145.9,519.2 1148.8,517.6 1151.7,520.3 1154.6,519.9 1157.5,520.4 1160.4,522.1 1163.3,522.5 1166.2,524.0 1169.1,525.1 1172.1,522.9 1175.0,525.5 1177.9,528.0 1180.8,527.8 1183.7,529.1 1186.6,528.8 1189.5,528.3 1192.4,529.5 1195.3,532.0 1198.2,533.2 1201.2,532.8 1204.1,534.2 1207.0,535.6 1209.9,534.9 1212.8,537.0 1215.7,539.6 1218.6,540.9 1221.5,539.7 1224.4,542.1 1227.3,540.8 1230.2,541.2 1233.2,540.7 1236.1,544.0 1239.0,543.5 1241.9,546.4 1244.8,545.4 1247.7,545.9 1250.6,544.9 1253.5,548.4 1256.4,547.5 1259.3,548.3 1262.2,547.2 1265.2,550.6 1268.1,551.3 1271.0,550.6 1273.9,551.9 1276.8,552.9 1279.7,554.2 1282.6,554.3 1285.5,556.5 1288.4,555.7 1291.3,556.4 1294.2,557.6 1297.2,556.9 1300.1,559.6 1303.0,562.4 1305.9,563.0 1308.8,563.3 1311.7,565.6 1314.6,564.8 1317.5,567.4 1320.4,569.3 1323.3,570.5 1326.2,570.4 1329.2,572.9 1332.1,574.8 1335.0,573.9 1337.9,576.0 1340.8,575.0 1343.7,575.7 1346.6,578.9 1349.5,579.4 1352.4,580.4 1355.3,580.6 1358.2,581.6 1361.2,583.3 1364.1,584.7 1367.0,583.7 1369.9,583.1 1372.8,586.1 1375.7,586.2 1378.6,586.9 1381.5,587.3 1384.4,590.4 1387.3,588.9 1390.2,590.5 1393.2,589.6 1396.1,593.3 1399.0,595.6 1401.9,598.7 1404.8,600.8 1407.7,600.6 1410.6,603.1 1413.5,598.9 1416.4,598.3 1419.3,598.2 1422.3,600.3 1425.2,610.8 1428.1,612.5 1431.0,609.6 1433.9,610.1 1436.8,607.6 1439.7,608.5 1442.6,608.5 1445.5,609.6 1448.4,612.7 1451.3,615.0 1454.3,617.6 1457.2,622.5 1460.1,621.9 1463.0,625.5 1465.9,624.9 1468.8,628.2 1471.7,625.2 1474.6,624.9 1477.5,625.8 1480.4,631.6 1483.3,630.7 1486.3,627.1 1489.2,625.6 1492.1,635.4 1495.0,640.1 1497.9,642.0 1500.8,643.6 1503.7,642.4 1506.6,642.9 1509.5,644.7 1512.4,645.7 1515.3,647.9 1518.3,651.0 1521.2,651.8 1524.1,654.6 1527.0,655.9 1529.9,655.5 1532.8,658.0" fill="none" stroke="#8000ff" stroke-width="5.5" stroke-linejoin="round" stroke-linecap="round"/>
</g>
<g>
<line x1="223.7" y1="1091.5" x2="223.7" y2="1079" stroke="#000" stroke-width="3.8"/>
<line x1="369.1" y1="1091.5" x2="369.1" y2="1068.6" stroke="#000" stroke-width="3.8"/>
<line x1="514.6" y1="1091.5" x2="514.6" y2="1079" stroke="#000" stroke-width="3.8"/>
<line x1="660.0" y1="1091.5" x2="660.0" y2="1068.6" stroke="#000" stroke-width="3.8"/>
<line x1="805.5" y1="1091.5" x2="805.5" y2="1079" stroke="#000" stroke-width="3.8"/>
<line x1="951.0" y1="1091.5" x2="951.0" y2="1068.6" stroke="#000" stroke-width="3.8"/>
<line x1="1096.4" y1="1091.5" x2="1096.4" y2="1079" stroke="#000" stroke-width="3.8"/>
<line x1="1241.9" y1="1091.5" x2="1241.9" y2="1068.6" stroke="#000" stroke-width="3.8"/>
<line x1="1387.3" y1="1091.5" x2="1387.3" y2="1079" stroke="#000" stroke-width="3.8"/>
</g>
<rect x="78.2" y="22.7" width="1454.6" height="1068.8" fill="none" stroke="#000" stroke-width="4"/>
<g>
<text transform="translate(78.2,1148.6) scale(0.96,1)" text-anchor="middle" class="tl">300</text>
<text transform="translate(369.1,1148.6) scale(0.96,1)" text-anchor="middle" class="tl">400</text>
<text transform="translate(660.0,1148.6) scale(0.96,1)" text-anchor="middle" class="tl">500</text>
<text transform="translate(951.0,1148.6) scale(0.96,1)" text-anchor="middle" class="tl">600</text>
<text transform="translate(1241.9,1148.6) scale(0.96,1)" text-anchor="middle" class="tl">700</text>
<text transform="translate(1532.8,1148.6) scale(0.96,1)" text-anchor="middle" class="tl">800</text>
</g>
<g>
<line x1="1088" y1="91.7" x2="1190" y2="91.7" stroke="#000000" stroke-width="5.2"/>
<text x="1199" y="105.6" class="lg">Pure ZnO</text>
<line x1="1088" y1="144.5" x2="1190" y2="144.5" stroke="#ff0000" stroke-width="5.2"/>
<text x="1199" y="158.4" class="lg">1% Cu/ZnO</text>
<line x1="1088" y1="197.3" x2="1190" y2="197.3" stroke="#0000ff" stroke-width="5.2"/>
<text x="1199" y="211.2" class="lg">3% Cu/ZnO</text>
<line x1="1088" y1="250.1" x2="1190" y2="250.1" stroke="#ff00ff" stroke-width="5.2"/>
<text x="1199" y="264.0" class="lg">5% Cu/ZnO</text>
<line x1="1088" y1="302.9" x2="1190" y2="302.9" stroke="#008000" stroke-width="5.2"/>
<text x="1199" y="316.8" class="lg">7% Cu/ZnO</text>
<line x1="1088" y1="355.7" x2="1190" y2="355.7" stroke="#000080" stroke-width="5.2"/>
<text x="1199" y="369.6" class="lg">10% Cu/ZnO</text>
<line x1="1088" y1="408.5" x2="1190" y2="408.5" stroke="#8000ff" stroke-width="5.2"/>
<text x="1199" y="422.4" class="lg">20% Cu/ZnO</text>
</g>
<text x="633" y="1198" class="at" font-size="52" textLength="369" lengthAdjust="spacingAndGlyphs">Wavelength (nm)</text>
<text transform="translate(50.4,750.5) rotate(-90)" class="at" font-size="54" textLength="368.5" lengthAdjust="spacingAndGlyphs">Absorbance (a.u)</text>
</svg>
</body></html>
